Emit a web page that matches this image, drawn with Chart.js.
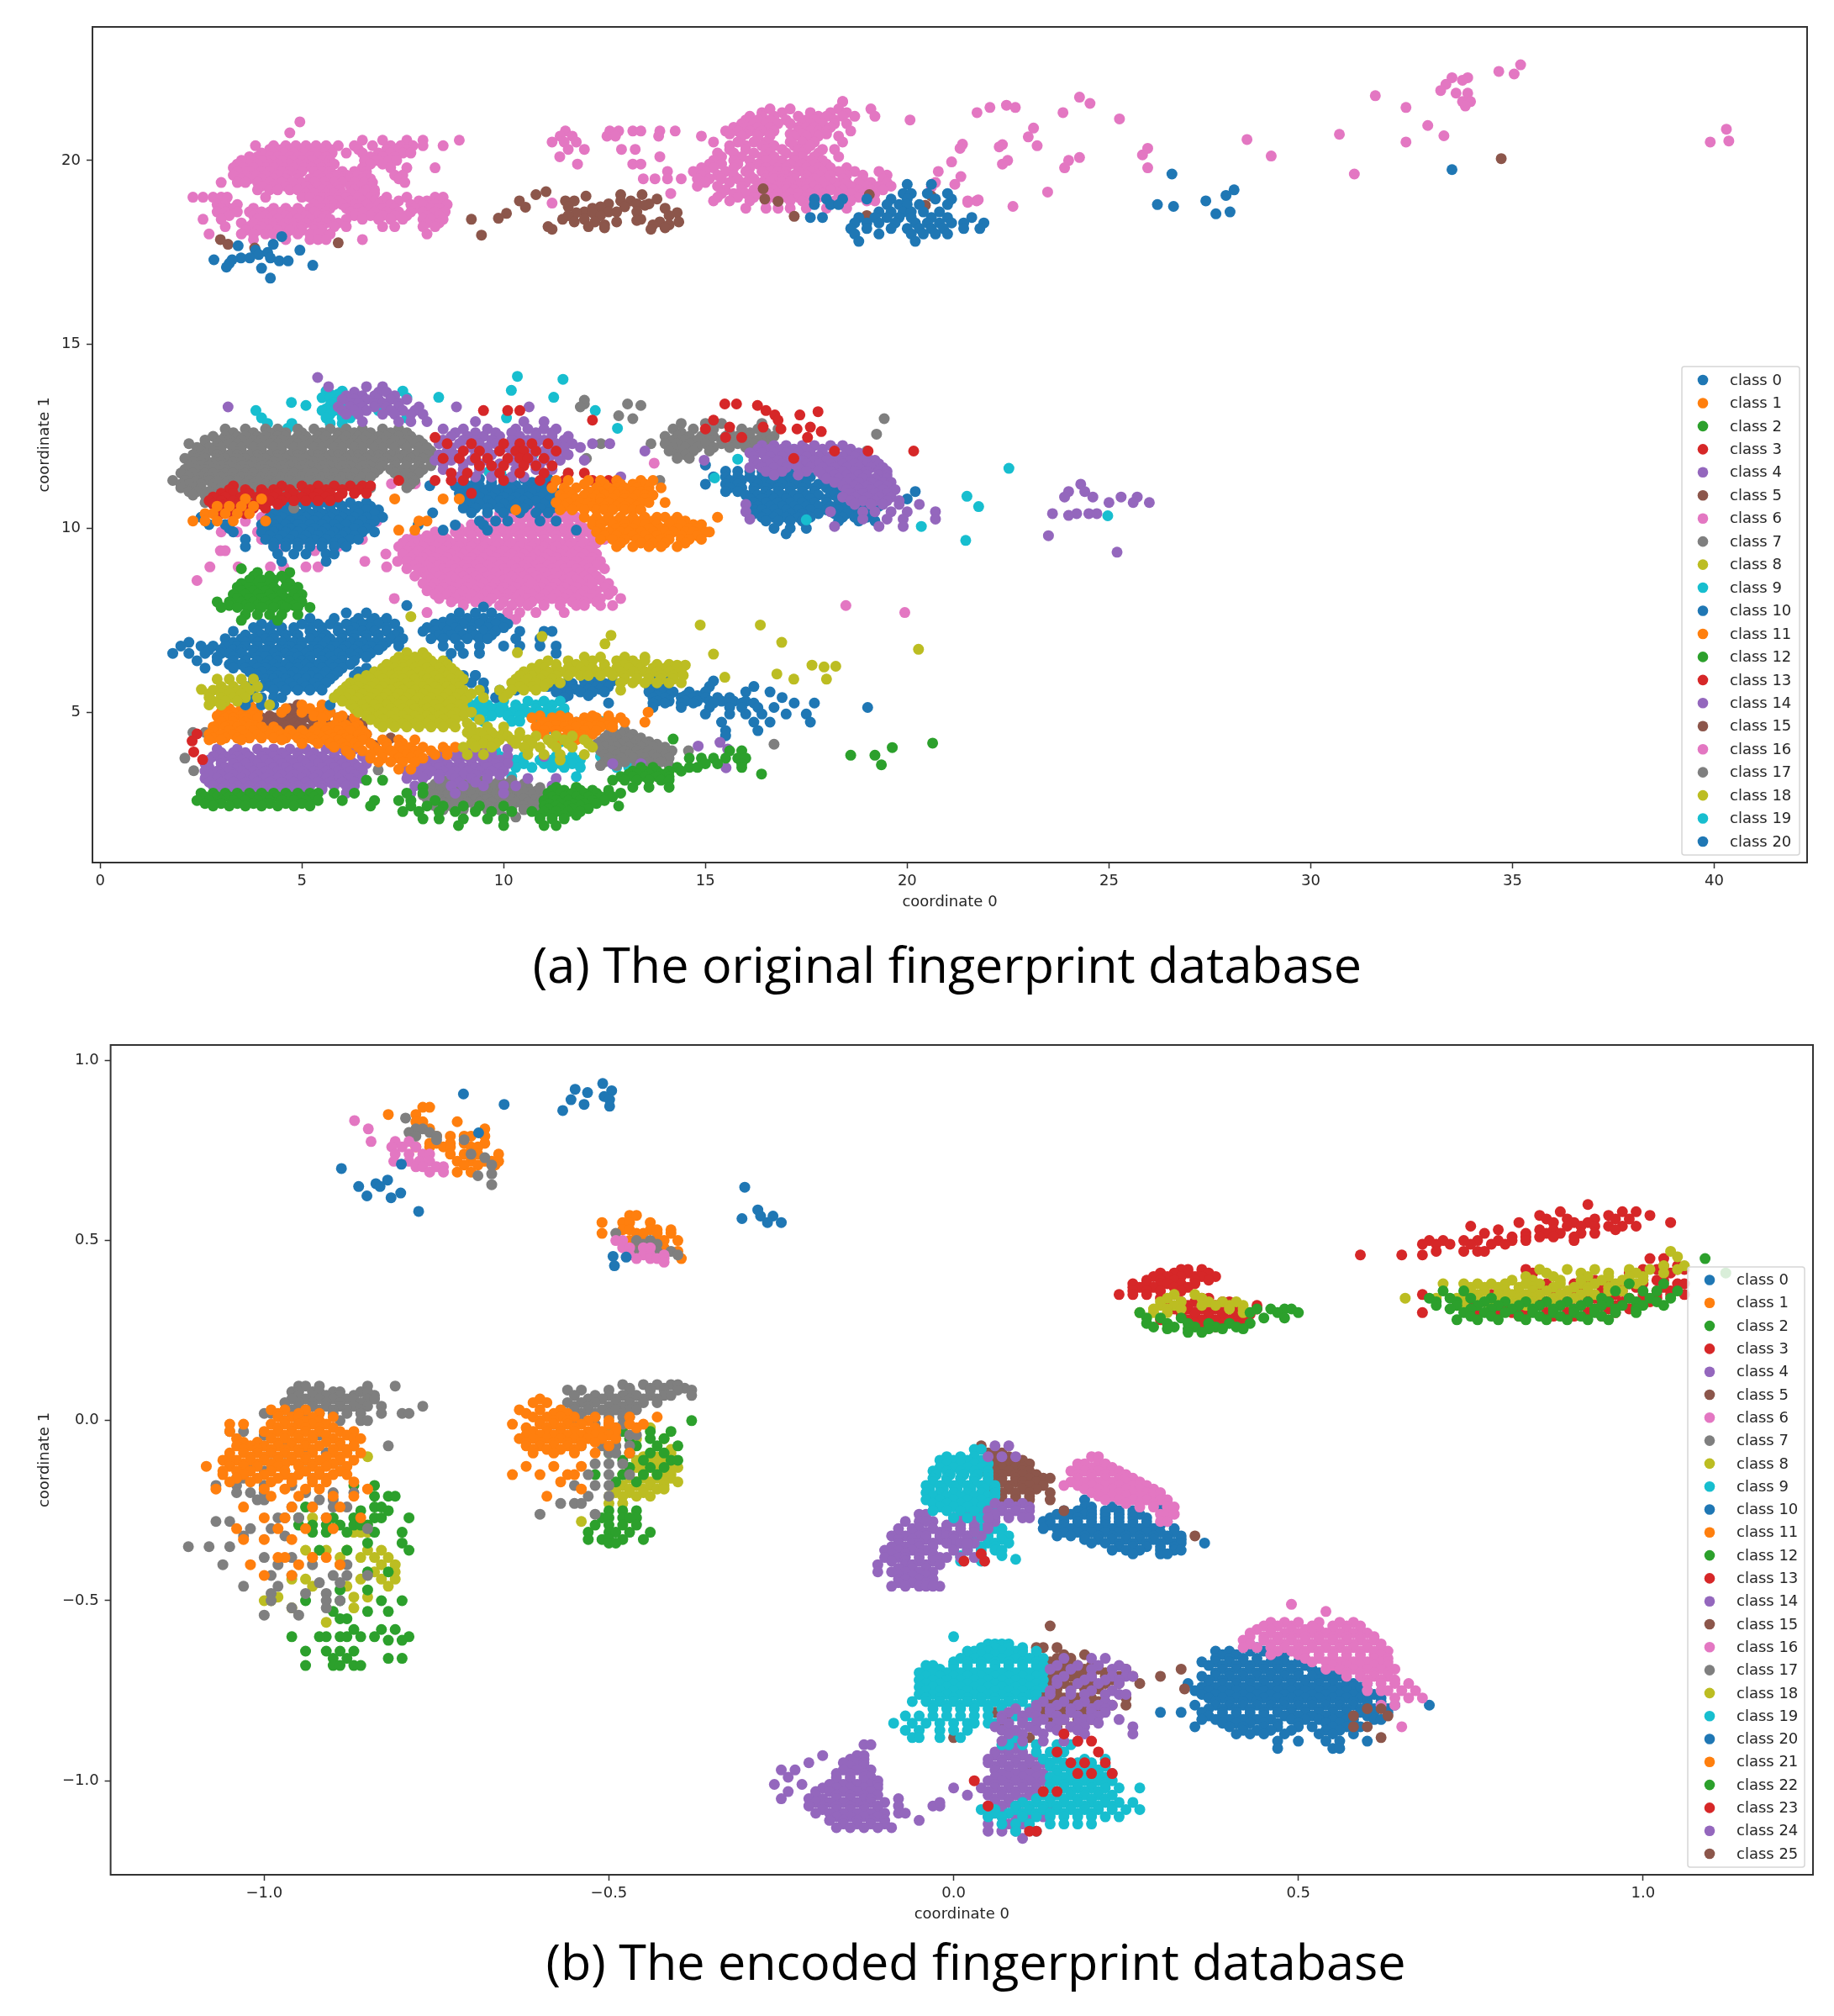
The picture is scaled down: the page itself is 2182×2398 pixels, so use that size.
<!DOCTYPE html>
<html>
<head>
<meta charset="utf-8">
<title>Fingerprint database scatter</title>
<script src="https://cdn.jsdelivr.net/npm/chart.js@4"></script>
<style>
  html, body { margin: 0; padding: 0; background: #fff; }
  body { position: relative; width: 2182px; height: 2398px; overflow: hidden; }
  canvas { position: absolute; left: 0; }
  #chartA { top: 0; }
  #chartB { top: 1200px; }
  .caption { position: absolute; white-space: nowrap; font-family: "Open Sans", "Noto Sans", sans-serif; font-size: 59.3px; line-height: 80px; color: #000; transform: translateX(-50%); }
  #capA { left: 1127px; top: 1106px; }
  #capB { left: 1161px; top: 2292px; }
</style>
</head>
<body>
<canvas id="chartA" width="2182" height="1100"></canvas>
<canvas id="chartB" width="2182" height="1120"></canvas>
<div class="caption" id="capA">(a) The original fingerprint database</div>
<div class="caption" id="capB">(b) The encoded fingerprint database</div>
<script>
const palette = ["#1f77b4", "#ff7f0e", "#2ca02c", "#d62728", "#9467bd", "#8c564b", "#e377c2", "#7f7f7f", "#bcbd22", "#17becf"];
const ticksAX = [0, 5, 10, 15, 20, 25, 30, 35, 40];
const ticksAY = [5, 10, 15, 20];
const ticksBX = [-1.0, -0.5, 0.0, 0.5, 1.0];
const ticksBY = [-1.0, -0.5, 0.0, 0.5, 1.0];

// every row below is [y, x, x, x ...]
// --- panel a ---
const a0 = [[19.75,33.5],[19.63,26.56],[19.2,28.1],[19.05,27.9],[18.9,27.4],[18.8,26.2],[18.75,26.6],[18.6,28.0],[18.55,27.65],
[17.93,4.5],[17.72,4.29],[17.68,3.42],[17.56,3.85,4.95],[17.5,4.15],[17.44,3.93],[17.35,3.49,3.71,4.22],[17.3,2.82,3.27],[17.27,4.44,4.66],[17.2,3.2],[17.15,5.27],[17.1,3.13],[17.07,4.0],[16.8,4.22],
[19.35,20.0,20.6],[19.1,19.9,20.1,20.5,21.0],[18.95,17.7,18.0,18.4,19.0,19.6,20.0,20.7,21.1],[18.8,17.7,18.1,18.3,19.5,19.8,20.0,20.3,21.0],[18.6,19.3,19.6,19.9,20.1,20.4,20.8],[18.45,17.6,17.9,18.8,19.2,19.5,19.8,20.1,20.6,21.0,21.6],[18.3,18.7,19.0,19.3,19.7,20.2,20.5,20.8,21.1,21.4,21.9],[18.15,18.6,19.0,19.6,20.0,20.3,20.6,20.9,21.4,21.8],[18.0,18.7,19.3,20.1,20.4,20.7,21.0],[17.8,18.8,20.2]];
const a1 = [[11.3,11.3,11.6,12.1,12.4,12.8,13.4,13.7],[11.2,12.0,12.5,12.9,13.2,13.5],[11.1,11.2,11.5,11.8,12.3,12.6,12.8,13.0,13.3,13.6,13.9],[11.0,11.6,12.1,12.4,12.7,12.9,13.2,13.4,13.6],[10.9,11.4,11.7,12.0,12.3,12.5,12.8,13.0,13.3,13.5,13.7],[10.8,11.5,11.8,12.2,12.4,12.7,13.0,13.2,13.5],[10.7,11.3,11.6,11.9,12.1,12.4,12.6,12.9,13.1,13.4,13.6,14.0],[10.6,11.5,11.8,12.2,12.5,12.8,13.0,13.3],[10.5,11.4,11.7,12.0,12.3,12.5,12.7,13.0,13.2,13.4,10.3],
[10.3,12.0,12.3,12.6,12.9,13.2,13.5,13.8,14.0,14.3,15.3],[10.2,12.2,12.5,12.8,13.1,13.4,13.7,14.2,14.5],[10.1,12.2,12.4,12.7,13.0,13.3,13.5,13.8,14.1,14.4,14.7,14.9],[10.0,12.4,12.8,13.0,13.2,13.6,13.9,14.3,14.6,14.8],[9.9,12.3,12.6,12.9,13.1,13.4,13.7,14.0,14.2,14.5,14.7,15.0,15.1],[9.8,12.5,12.8,13.2,13.5,13.8,14.1,14.4,14.8],[9.7,12.4,12.7,13.0,13.3,13.6,13.9,14.1,14.4,14.6,14.9],[9.6,12.9,13.4,13.7,14.0,14.5],[9.5,12.8,13.2,13.6,13.9,14.3],
[10.8,3.6,4.0,7.3,8.5,8.9],[10.6,2.9,3.2,3.5,3.8],[10.4,2.6,2.8,3.1,3.4,3.7],[10.2,2.3,2.6,2.9,3.3,4.1,7.9,8.1],[9.95,7.8,7.4]];
const a2 = [[8.9,3.5],[8.8,3.9,4.7],[8.7,3.8,4.2,4.5],[8.6,3.7,4.0,4.3,4.6],[8.5,3.5,3.9,4.2,4.7],[8.4,3.4,3.7,4.0,4.3,4.6,4.9],[8.3,3.5,3.8,4.1,4.4,4.8],[8.2,3.3,3.6,3.9,4.2,4.5,4.8,5.0],[8.1,3.4,3.7,4.0,4.3,4.6,4.9],[8.0,2.9,3.2,3.5,3.8,4.1,4.4,4.7,5.0],[7.9,3.2,3.6,3.9,4.2,4.5,4.8],[7.85,3.0,3.4,3.7,4.0,4.3,4.6,4.9,5.2],[7.65,3.6,3.9,4.2,4.5,4.9],[7.5,3.5,4.4]];
const a3 = [[13.38,15.77,15.48],[13.34,16.29],[13.2,16.5,9.5,10.1,10.4],[13.08,16.72,17.34],[13.17,17.79],[12.94,15.2,16.8,12.2],[12.75,15.6,16.43,17.6],[12.7,16.87,17.27,15.0],[12.63,17.87],[12.47,15.5,15.9,17.53,8.3],[12.3,8.6,9.2,10.0,10.4,10.7,11.1],[12.1,9.0,9.4,9.9,10.3,10.5,10.8,11.3,18.2,19.03,20.16],
[11.9,8.5,8.9,9.3,9.6,10.1,10.4,10.6,11.0,17.19],[11.7,9.4,9.7,10.0,10.5,10.8,11.2],[11.5,8.7,9.1,9.9,10.4,11.0,11.6,12.0],[11.3,7.4,8.3,8.7,9.0,10.0,10.9,11.5,12.2,12.6],[11.15,3.3,4.5,5.0,5.4,5.8,6.2,6.5,6.7,11.2],[11.05,3.2,3.6,4.0,4.3,4.7,5.2,5.6,6.0,6.4],[10.95,3.0,3.3,3.7,4.1,4.4,4.8,5.1,5.4,5.7,6.0,6.3,6.6,9.2],[10.85,2.8,3.1,3.5,3.9,4.3,4.6,5.0,5.3,5.6,5.9],[10.75,2.7,3.0,3.3,3.6,3.9,4.2,4.5,4.8,5.1,5.4,5.7],[10.65,2.8,3.1,3.4,3.7,4.0,4.4],[10.55,2.9,3.2,3.5,3.8,4.1],[10.4,3.0,3.3,3.6]];
const a4 = [[14.1,5.39],[13.85,5.66,6.6,7.0],[13.7,6.3,6.9,7.1],[13.6,6.1,6.5,6.8,7.3],[13.5,6.0,6.3,6.6,6.9,7.2,7.6],[13.4,6.2,6.4,6.8,7.0,7.4],[13.3,3.17,5.9,6.2,6.5,6.8,7.1,7.4,7.9,8.83,10.63],[13.2,6.0,6.3,6.6,7.2,7.5,7.8],[13.1,6.1,6.4,7.0,7.3,7.7,8.0],[12.9,6.5,7.4,7.7,8.1,9.3,10.5,11.0],[12.7,8.5,9.0,9.6,10.3,10.6,11.0,11.3],[12.6,8.8,9.3,9.8,10.2,10.8,11.2],[12.5,8.7,9.1,9.5,9.9,10.4,10.8,11.2,11.6],[12.4,8.5,9.0,9.3,9.7,10.2,10.6,11.0,11.5],[12.3,8.4,8.9,9.4,9.8,10.3,10.8,11.3,11.7,12.2,12.63],[12.2,8.7,9.2,9.6,10.1,10.6,11.1,11.5,11.9],[12.1,8.6,9.0,9.5,9.9,10.5,11.0,11.5,13.5],[12.0,8.4,8.8,9.3,9.7,10.2,10.7,11.2,11.6],[11.85,8.3,8.7,9.2,9.6,10.2,10.7,11.1,11.4,14.97,12.0],[11.75,8.5,9.0,9.4,9.9,10.4,10.9],[11.6,8.5,9.0,9.4,9.8,10.3,10.8,11.2],[11.4,8.9,9.3,9.7,10.2,10.5,12.9],
[12.25,16.4,16.7,17.0,17.4,17.7,18.1,18.4],[12.15,16.3,16.6,16.9,17.2,17.5,17.9,18.2,18.6],[12.05,16.1,16.4,16.7,17.0,17.3,17.6,17.9,18.2,18.5,18.8],[11.95,16.2,16.6,16.9,17.2,17.5,17.8,18.1,18.4,18.7,19.0],[11.85,16.2,16.5,16.8,17.1,17.4,17.7,18.0,18.3,18.6,18.9,19.2],[11.75,16.3,16.6,16.9,17.2,17.5,17.8,18.1,18.4,18.7,19.0,19.3],[11.65,16.1,16.4,16.7,17.0,17.3,17.6,17.9,18.2,18.5,18.8,19.1,19.4],[11.55,16.5,16.9,17.5,17.8,18.1,18.4,18.7,19.0,19.3,19.5],[11.45,16.7,17.3,17.9,18.2,18.5,18.8,19.0,19.3,19.5],[11.35,18.0,18.3,18.6,18.9,19.2,19.5],[11.25,18.2,18.5,18.8,19.1,19.4,19.6],[11.15,18.4,18.7,19.0,19.3,19.5],[11.05,18.5,18.8,19.1,19.4,19.7],[10.95,18.6,18.9,19.2,19.5],[10.85,18.4,18.7,19.0,19.3,19.6],[10.75,18.6,18.9,19.2,19.5,19.8],[10.65,16.0,18.7,19.1,19.4,19.8,20.3],[10.45,16.0,18.1,18.9,19.2,19.6,20.0,20.7],[10.25,16.1,18.9,19.5,19.9,20.7],[10.05,18.2,19.3,19.9],[11.2,24.3],[11.0,24.0,24.4],[10.85,23.9,24.6,25.3,25.7],[10.7,25.0,25.6,26.0],[10.4,23.6,24.2,24.5,24.7],[10.35,24.0],[9.8,23.5],[9.35,25.2]];
const a5 = [[20.05,34.72],[19.23,16.43],[19.15,11.05],[19.07,10.8,12.9,13.43,19.06],[19.03,12.04,20.6],[18.99,20.0],[18.95,16.47,13.8],[18.9,10.39,11.53,11.75,13.15,12.9],[18.89,16.8],[18.82,12.6,13.3,13.6],[18.78,13.5,20.45],[18.74,12.4,13.0,11.6],[18.73,10.54],[18.7,14.0,12.2],[18.6,12.0,12.6,12.8,13.3],[18.58,11.8,12.2,14.3],[18.56,10.07],[18.5,19.0,14.1,11.6,12.4],[18.48,17.2],[18.43,9.87],[18.4,9.2,11.46,13.4,12.0],[18.37,13.3],[18.33,11.75,12.26,12.8,14.34,13.87],[18.25,12.5,13.7,14.1],[18.2,11.1,12.1],[18.17,12.5,14.0],[18.13,11.2,13.65],[17.97,9.45],[17.85,2.98],[17.76,5.9],[17.72,3.17],[17.62,3.83]];
const a6 = [[22.6,35.2],[22.42,34.66],[22.35,35.04],[22.25,33.5,33.89],[22.18,33.76],[22.07,33.35],[21.9,33.22],[21.83,33.6,33.89],[21.76,31.6],[21.72,24.27],[21.6,33.76,33.96,18.4],[21.55,24.53],[21.48,33.83],[21.5,22.46],[21.44,22.05,22.68,32.36],[21.3,21.73,23.86],[21.13,25.26],[21.1,20.07],[20.95,32.9],[20.88,23.13],[20.85,40.3],[20.71,30.71],[20.67,33.3],[20.64,23.0],[20.57,28.42],[20.53,40.36],[20.5,39.9,32.36],[20.44,21.37],[20.43,22.36],[20.4,23.22],[20.33,21.31,25.96],[20.37,22.28],[20.15,25.83],[20.12,29.02],[20.08,24.27],[20.0,22.49,24.0],[19.96,21.1],[19.9,22.36],[19.8,23.9,25.96],[19.7,20.77],[19.63,31.08],[19.56,21.33],[19.4,20.7],[19.35,21.18],[19.28,20.6],[19.14,23.48],[18.93,21.76],[18.9,21.5,21.72],[18.86,21.5],[18.75,22.62],[18.84,11.2],
[21.05,4.95],[20.75,4.7],[20.55,6.5,7.0,7.6,8.0,8.9],[20.4,3.85,4.3,4.6,4.85,5.1,5.35,5.6,5.9,6.3,6.75,7.2,7.45,7.75,8.0,8.5],[20.3,4.2,4.5,4.7,5.0,5.2,5.5,5.7,6.4,7.1,7.4,7.6],[20.2,4.0,4.3,4.55,4.8,5.05,5.3,5.55,5.75,6.1,6.5,6.9,7.2,7.5,7.7],[20.1,3.7,3.9,4.2,4.4,4.7,4.9,5.2,5.4,5.6,6.7,7.0,7.3],[20.0,3.5,3.75,4.0,4.25,4.5,4.75,5.0,5.25,5.5,5.7,6.55,6.85,7.15,7.35],[19.9,3.4,3.7,3.9,4.2,4.4,4.7,4.9,5.1,5.4,5.6,5.8,6.7,7.0],[19.8,3.3,3.55,3.8,4.1,4.3,4.55,4.8,5.05,5.25,5.5,5.7,6.5,7.2,7.6,8.3],[19.7,3.4,3.7,4.0,4.2,4.5,4.7,5.0,5.3,5.5,5.7,6.0,6.3,6.6],[19.6,3.3,3.6,3.85,4.1,4.4,4.65,4.9,5.4,5.6,5.85,6.1,6.35,6.6,7.3,7.5],[19.5,3.5,3.7,4.0,4.3,4.6,4.9,5.2,5.5,5.7,6.0,6.2,6.5,6.7,7.4],[19.4,3.0,3.4,3.6,3.9,4.2,4.5,4.75,5.0,5.3,5.55,5.8,6.0,6.3,6.55,6.75,7.55],[19.3,4.0,4.3,4.6,4.8,5.1,5.4,5.6,5.9,6.2,6.4,6.7],[19.2,3.9,4.2,4.4,4.7,4.9,5.2,5.5,5.7,5.95,6.3,6.6,6.8],[19.1,5.1,5.3,5.6,5.8,6.0,6.2,6.5,6.8],[19.0,2.3,2.55,2.8,3.0,3.15,4.1,5.0,5.2,5.5,5.7,5.9,6.1,6.4,6.7,7.1,7.6,8.3,8.5],[18.9,5.4,5.7,5.9,6.2,6.5,6.8,7.0,7.4,7.9,8.1,8.4],[18.8,2.9,3.1,3.4,5.3,5.6,5.8,6.0,6.3,6.6,6.9,7.2,7.7,8.0,8.3,8.6],[18.7,3.0,3.3,3.8,4.3,4.6,4.9,5.2,5.5,5.7,6.1,6.4,6.7,7.0,7.3,7.8,8.2,8.4],[18.6,2.9,3.1,3.4,3.7,4.0,4.2,4.5,4.7,5.0,5.3,5.6,6.2,6.5,6.8,7.1,7.4,7.7,8.0,8.3,8.55],[18.5,3.2,3.8,4.1,4.3,4.6,4.8,5.1,5.4,5.6,6.3,6.7,7.0,7.3,7.6,8.1,8.4],[18.4,2.55,3.0,3.9,4.2,4.4,4.7,4.9,5.2,5.5,5.7,6.1,6.5,6.9,7.2,7.5,8.0,8.2,8.5],[18.3,3.5,3.8,4.1,4.3,4.6,4.8,5.1,5.4,5.6,5.9,8.1,8.4],[18.2,3.1,3.7,4.0,4.3,4.5,4.8,5.0,5.3,5.5,5.8,6.1,7.0,7.3,8.0,8.3],[18.1,3.6,3.9,4.2,4.4,4.7,5.0,5.3,5.5],[18.0,2.7,3.5,3.8,4.1,4.3,4.6,4.9,5.2,5.4,5.7,8.1],[17.85,3.8,4.6,5.2,5.4,5.6,6.5],
[21.6,18.4],[21.4,16.6,17.1,18.3,19.1],[21.3,16.4,16.9,17.6,18.1,18.5],[21.2,16.1,16.4,16.7,17.3,17.8,18.0,18.4,18.7,19.2],[21.1,16.0,16.3,16.6,17.0,17.5,17.7,18.2],[21.0,15.9,16.2,16.5,16.8,17.1,17.4,17.6,17.9,18.2,18.5],[20.9,15.7,16.0,16.3,16.6,17.3,17.5,17.7,18.1],[20.8,15.5,15.8,16.1,16.4,16.7,17.3,17.6,17.8,18.0,18.6,11.53,12.63,12.85,13.2,13.4,14.25,13.87],[20.72,15.6,16.0,16.3,16.6,17.1,17.4,17.7,18.0],[20.66,14.9,15.9,16.3,16.6,17.2,17.5,17.8,18.3,11.4,11.7,12.56,12.77,13.84],[20.5,15.2,15.8,16.2,16.5,17.1,17.4,17.7,18.4,11.2,11.5,11.8],[20.4,15.6,16.0,16.4,16.7,17.2,17.6],[20.3,15.6,16.0,16.5,16.9,17.3,17.5,17.9,18.2,11.6,12.0,12.92,13.26],[20.2,15.3,15.7,16.2,16.6,17.0,17.4,17.8],[20.1,15.4,15.9,16.4,16.7,17.2,17.4,17.7,18.3,11.39,13.87],[20.0,15.2,15.7,16.1,16.5,16.9,17.2,17.6,17.9],[19.9,15.1,15.4,15.8,16.3,16.7,16.9,17.1,17.4,17.7,18.0,11.83,13.2,13.4],[19.8,14.9,15.2,15.7,16.1,16.5,16.8,17.0,17.3,17.5,17.8,18.1,18.5],[19.7,14.7,15.0,15.5,16.0,16.4,16.6,16.8,17.0,17.3,17.6,17.9,18.3,18.7,19.3,14.06],[19.6,14.9,15.3,15.7,16.1,16.5,16.7,17.0,17.2,17.5,17.8,18.1,18.5,18.9,19.5],[19.5,14.8,15.1,15.4,15.8,16.2,16.5,16.7,16.9,17.2,17.5,17.7,18.0,18.4,18.9,19.4,13.46,13.75,14.06,14.4],[19.4,15.0,15.6,16.0,16.4,16.6,16.9,17.1,17.4,17.6,17.9,18.2,18.5,18.8,19.1,19.5],[19.3,14.8,15.3,15.9,16.3,16.5,16.8,17.0,17.3,17.5,17.7,18.0,18.3,18.6,19.0,19.3,19.6],[19.2,15.5,15.9,16.2,16.5,16.7,17.0,17.2,17.5,17.8,18.1,18.4,18.8,19.1,19.4],[19.1,15.4,15.7,16.0,16.3,16.6,16.8,17.1,17.3,17.6,17.9,18.3,18.6,18.9,19.2,14.14],[19.0,15.3,15.8,16.2,16.5,16.7,17.0,17.3,17.5,17.8,18.4,18.8],[18.9,15.2,15.6,16.1,16.5,16.8,17.1,17.4,17.6,18.2,18.6,19.0,19.2],[18.7,16.0,16.5,16.8,17.1,17.5,18.0,18.5]];
const a7 = [[13.48,12.0],[13.38,13.07,12.0],[13.34,13.4],[13.3,11.9],[13.06,12.85],[12.98,13.2,19.43],[12.85,14.4,15.0,15.4,16.4],[12.7,3.1,3.6,4.1,4.4,4.9,5.3,5.7,6.1,6.5,7.0,7.4,14.2,14.7,15.2,15.9,16.3,16.8],[12.6,3.3,3.8,4.2,4.6,5.0,5.5,5.9,6.3,6.7,7.2,7.6,14.4,15.0,15.6,16.1,16.5],[12.56,19.24],[12.5,2.8,3.1,3.4,3.6,3.9,4.1,4.4,4.6,4.9,5.1,5.4,5.6,5.9,6.1,6.4,6.6,6.9,7.1,7.4,7.7,14.0,14.3,14.6,14.9,15.2,15.5,15.8,16.1,16.4,16.7],[12.4,2.6,3.0,3.2,3.5,3.8,4.0,4.3,4.5,4.8,5.0,5.3,5.5,5.8,6.0,6.3,6.5,6.8,7.0,7.3,7.6,7.9,14.2,14.5,14.8,15.1,15.4,15.7,16.0,16.3,16.6],[12.3,2.2,2.6,2.9,3.2,3.4,3.7,3.9,4.2,4.4,4.7,4.9,5.2,5.4,5.7,5.9,6.2,6.4,6.7,6.9,7.2,7.5,7.8,8.0,14.0,14.3,14.6,15.0,15.4,15.8,16.2,16.5,12.41,13.65],[12.2,2.4,2.7,3.0,3.3,3.5,3.8,4.0,4.3,4.5,4.8,5.0,5.3,5.5,5.8,6.0,6.3,6.5,6.8,7.0,7.3,7.6,7.9,8.1,14.2,14.5,14.8,15.2,15.6,16.0],[12.1,2.5,2.8,3.0,3.3,3.5,3.8,4.0,4.3,4.5,4.8,5.0,5.3,5.5,5.8,6.0,6.3,6.5,6.8,7.0,7.3,7.6,7.9,8.2,14.1,14.4,14.7,15.1,19.0],[12.0,2.3,2.6,2.9,3.2,3.4,3.7,3.9,4.2,4.4,4.7,4.9,5.2,5.4,5.7,5.9,6.2,6.4,6.7,6.9,7.2,7.5,7.8,8.1,14.3,14.5],[11.9,2.1,2.4,2.6,2.9,3.1,3.4,3.6,3.9,4.1,4.4,4.6,4.9,5.1,5.4,5.6,5.9,6.1,6.4,6.6,6.9,7.1,7.4,7.7,8.0,8.3,12.05,14.3,14.6],[11.8,2.3,2.5,2.8,3.0,3.3,3.5,3.8,4.0,4.3,4.5,4.8,5.0,5.3,5.5,5.8,6.0,6.3,6.5,6.8,7.0,7.3,7.6,7.9,8.2],[11.7,2.2,2.5,2.7,3.0,3.2,3.5,3.7,4.0,4.2,4.5,4.7,5.0,5.2,5.5,5.7,6.0,6.2,6.5,6.7,7.0,7.3,7.6,7.9,8.2],[11.6,2.1,2.4,2.6,2.9,3.1,3.4,3.6,3.9,4.1,4.4,4.6,4.9,5.1,5.4,5.6,5.9,6.1,6.4,6.6,6.9,7.2,7.5,7.8,8.0],[11.5,2.0,2.3,2.6,2.8,3.1,3.3,3.6,3.8,4.1,4.3,4.6,4.8,5.1,5.3,5.6,5.8,6.1,6.3,6.6,6.8,7.3,7.6,7.9,11.6],[11.4,2.2,2.5,2.7,3.0,3.2,3.5,3.7,4.0,4.2,4.5,4.7,5.0,5.2,5.5,5.7,6.0,6.2,6.5,6.7,7.4,7.7],[11.3,1.8,2.1,2.4,2.7,2.9,3.2,3.4,3.7,3.9,4.2,4.4,4.7,4.9,5.2,5.4,5.7,5.9,6.2,6.4,7.5,7.8,13.87],[11.2,2.0,2.2,2.5,2.8,3.1,3.3,3.6,3.8,4.1,4.3,4.8,5.3,5.6,6.1,6.5,7.7],[11.1,2.0,2.3,2.5,2.8,3.0,3.3,3.5,3.8,4.0,4.6,5.1,5.5,6.0,6.7,7.6],[11.0,2.2,2.4,2.7,3.0,3.2,3.5,3.9,4.4,5.0],[10.9,2.3,2.6,2.9,3.1,3.4,3.7,4.2,4.8,5.5],[10.7,2.6,3.0,3.6],[10.55,4.8]];
const a8 = [[7.6,7.7],[7.37,14.87,16.36],[7.09,12.66],[7.06,10.95],[6.9,16.89],[6.86,12.51],[6.71,20.28],[6.62,10.34,7.6,8.0],[6.58,15.2],[6.5,12.0,12.4,13.0,13.5,7.4,7.8,8.1],[6.4,7.3,7.6,7.9,8.2,8.5,11.1,11.6,12.2,12.8,13.2,13.5],[6.3,7.1,7.5,7.7,8.0,8.3,8.6,10.9,11.3,11.8,12.0,12.5,13.0,13.3,13.8,14.1],[6.28,17.64,14.3,14.5],[6.25,18.23],[6.23,17.94],[6.2,7.0,7.3,7.5,7.8,8.1,8.4,8.7,10.7,11.0,11.3,11.6,11.9,12.2,12.5,12.8,13.1,13.4,13.7,14.0,14.3],[6.1,6.8,7.1,7.4,7.6,7.9,8.2,8.5,8.8,10.5,10.8,11.1,11.4,11.7,12.0,12.3,12.6,12.9,13.2,13.5,13.8,14.1,14.4],[6.04,16.77],[6.0,6.6,6.9,7.2,7.4,7.7,8.0,8.3,8.6,8.9,10.4,10.7,11.0,11.3,11.6,11.9,12.1,12.4,12.7,13.0,13.3,13.6,13.9,14.2,14.45],[5.95,15.48],[5.9,2.9,3.2,3.5,3.8,18.0,17.19,6.4,6.7,7.0,7.3,7.5,7.8,8.1,8.4,8.7,9.0,10.3,10.6,10.9,11.2,13.0,13.3,13.6,13.9,14.2],[5.8,6.2,6.5,6.8,7.1,7.3,7.6,7.9,8.2,8.5,8.8,10.2,10.5,10.8,11.1,11.4,12.9,13.2,13.5,13.8,14.1,14.4],[5.7,3.0,3.3,3.6,3.9,6.1,6.4,6.7,7.0,7.4,7.7,8.0,8.3,8.6,8.9,10.4,10.7,11.0],[5.62,2.51],[5.6,2.8,3.1,3.4,3.7,6.0,6.3,6.6,6.9,7.2,7.5,7.8,8.1,8.4,8.7,9.0,9.4,9.9,10.2,10.5,10.8,12.9],[5.5,2.7,3.0,3.2,3.5,5.9,6.2,6.5,6.8,7.1,7.4,7.7,8.0,8.3,8.6,8.9,9.2,10.1],[5.4,2.7,3.0,3.3,3.6,3.9,5.8,6.1,6.4,6.7,7.0,7.3,7.6,7.9,8.2,8.5,8.8,9.1,9.5,10.0],[5.3,2.8,3.1,3.4,6.0,6.3,6.6,6.9,7.2,7.5,7.8,8.1,8.4,8.7,9.0],[5.2,2.7,3.0,4.2,6.2,6.5,6.8,7.1,7.4,7.7,8.0,8.3,8.6,8.9],[5.1,6.3,6.6,6.9,7.2,7.5,7.8,8.1,8.4,8.7,9.0],[5.0,6.4,6.7,7.0,7.3,7.6,7.9,8.2,8.5,8.8,9.2],[4.9,6.6,6.9,7.2,7.5,7.8,8.1,8.4,8.7,9.0],[4.8,6.7,7.0,7.3,7.6,7.9,8.2,8.5,8.8,9.4],[4.7,6.9,7.2,7.5,7.8,8.1,8.4,8.7,9.1],[4.6,7.0,7.3,7.6,7.9,8.2,8.5,8.8,9.2,9.6,10.0],[4.45,9.1,9.4,9.7,10.0,10.4],[4.35,9.2,9.5,9.8,10.1,10.4,10.8,11.3,11.7],[4.25,9.3,9.6,9.9,10.2,10.6,11.1,11.5,12.0],[4.15,9.2,9.5,9.8,10.3,10.7,11.2,11.6,12.1],[4.05,9.0,9.3,9.7,10.5,10.9,11.3,11.7,12.2],[3.85,9.1,9.5,10.6,11.0,11.4,12.0]];
const a9 = [[14.13,10.34],[14.05,11.47],[13.75,10.19],[13.73,7.5,5.6,6.0],[13.65,5.7,5.9],[13.56,11.24,8.39],[13.55,5.5,5.7,5.95,6.2,7.6],[13.42,4.74,5.8,6.0],[13.35,5.7,6.1,7.0],[13.34,5.1],[13.25,5.6,5.9,6.2],[13.2,3.86,12.27,5.5,5.8,6.1,6.9],[13.1,5.7,6.0],[13.0,4.0,5.6,6.0,6.2,7.6,10.07],[12.85,4.15,4.75,5.7,6.0],[12.72,12.82,4.65],[12.37,9.34],[12.14,17.16],[12.0,10.73],[11.96,17.57],[11.88,15.8],[11.63,22.52],[11.54,9.63],[11.5,9.93],[11.38,18.33],[11.37,15.23],[10.87,21.48],[10.59,21.77],[10.34,24.97],[10.23,17.5],[10.05,20.35],[9.67,21.45]];
const a10 = [[7.86,9.5],[7.7,6.1,6.6,8.9,9.3,9.7],[7.55,5.2,5.8,6.4,6.8,7.1,8.7,9.1,9.5,9.9],[7.45,6.3,6.7,7.0,8.5,8.9,9.3,9.7,10.0],[7.4,4.0,4.3,5.0,5.4,5.7,6.1,6.5,6.9,7.3,8.3,8.7,9.0,9.4,9.8,10.1],[7.3,3.8,4.2,4.5,4.8,5.2,5.5,5.9,6.3,6.7,7.1,8.1,8.5,8.8,9.2,9.6,10.0],[7.2,3.3,3.9,4.2,4.5,4.8,5.2,5.5,5.9,6.2,6.5,6.8,7.1,7.4,8.0,8.3,8.6,8.9,9.2,9.5,9.8,10.4,11.0,11.2],[7.1,3.6,4.0,4.3,4.6,4.9,5.3,5.6,6.0,6.3,6.6,6.9,7.3,8.4,8.7,9.0,9.3,9.7],[7.0,3.1,3.5,3.8,4.1,4.3,4.6,4.9,5.2,5.5,5.7,6.0,6.3,6.6,6.9,7.2,7.5,8.2,8.5,8.8,9.1,9.4,9.6,10.3,10.9],[6.9,2.2,3.3,3.6,3.9,4.2,4.5,4.8,5.0,5.4,5.6,5.9,6.2,6.5,6.8,7.1,7.4],[6.8,2.0,2.5,2.8,3.1,3.4,3.6,3.9,4.2,4.5,4.7,5.0,5.3,5.5,5.8,6.1,6.4,6.7,7.0,7.4,8.5,8.9,9.4,10.0,10.4,10.9,11.3],[6.7,2.7,3.0,3.3,3.5,3.8,4.1,4.4,4.6,4.9,5.2,5.4,5.7,6.0,6.3,6.6,6.9],[6.6,1.8,2.2,2.6,3.0,3.2,3.5,3.8,4.0,4.3,4.6,4.8,5.1,5.4,5.6,5.9,6.2,6.4,6.7,8.0,8.7,9.0,9.4,11.3],[6.5,2.9,3.3,3.6,3.9,4.1,4.4,4.7,4.9,5.2,5.5,5.7,6.0,6.3,6.6],[6.4,2.4,2.9,3.3,3.6,3.9,4.2,4.4,4.7,5.0,5.2,5.5,5.8,6.0,6.3,8.6],[6.3,3.2,3.5,3.8,4.1,4.3,4.6,4.9,5.1,5.4,5.7,5.9,6.2],[6.2,2.6,3.3,3.6,3.9,4.1,4.4,4.7,4.9,5.2,5.5,5.8,6.0,6.6,7.1],[6.1,3.7,4.0,4.3,4.5,4.8,5.1,5.3,5.6,5.9,6.4],[6.0,3.9,4.2,4.4,4.7,5.0,5.2,5.5,5.8,6.3,6.9,9.0,9.3],[5.9,3.8,4.1,4.3,4.6,4.9,5.1,5.4,5.7],[5.8,3.8,4.1,4.4,4.7,5.0,5.3,5.6,7.3,7.7,8.7,9.2,9.5],[5.7,3.6,4.0,4.2,4.5,4.8,5.1,5.4],[5.6,3.5,3.8,4.3,4.6,4.9,5.2,5.5,7.1,7.5,8.0,8.5,9.5,9.9,10.3],[5.4,3.3,3.7,4.0,4.3,4.5,6.6,7.6,9.8],[5.2,3.6,4.0,4.3,5.7],
[11.72,15.0],[11.55,15.5,15.8,16.1,16.4,16.7,17.1,17.4],[11.4,15.2,15.5,15.8,16.1,16.4,16.7,17.0,17.3,17.6,18.1,18.6,18.9],[11.3,15.6,15.9,16.2,16.5,16.8,17.1,17.4,18.0,18.4,18.7],[11.2,15.0,15.5,15.8,16.3,16.6,16.9,17.2,17.5,17.8,18.2,18.5,18.8],[11.1,15.6,15.9,16.2,16.5,16.8,17.1,17.4,17.7,18.0,18.3,18.6],[11.0,15.5,15.8,16.2,16.5,16.8,17.1,17.4,17.7,18.1,18.4,18.7,20.2],[10.9,16.0,16.3,16.6,16.9,17.2,17.5,17.8,18.2,18.5],[10.8,16.1,16.4,16.7,17.0,17.3,17.6,18.0,18.3,18.6,20.0],[10.7,16.2,16.5,16.8,17.1,17.4,17.7,18.0,18.3,18.6,18.9],[10.6,16.1,16.3,16.6,16.9,17.2,17.5,17.8,18.1,18.4,18.7,19.0,19.3],[10.5,16.2,16.4,16.7,17.0,17.3,17.6,18.0,18.3,18.6,18.9,19.2],[10.4,16.2,16.5,16.8,17.1,17.4,17.8,18.2,18.5,18.8,19.1],[10.3,16.4,16.7,17.0,17.3,17.6,18.4,18.7,19.0],[10.2,16.5,16.8,17.1,17.4,18.3,18.8,19.2],[10.0,16.7,17.1,17.5],[9.85,17.0],
[11.35,9.0,9.4,10.0,10.5,11.1],[11.25,9.0,9.3,9.7,10.2,10.7,11.0],[11.16,8.17,8.8,9.1,9.4,9.7,10.0,10.3,10.6,10.9,11.2],[11.05,9.0,9.3,9.6,9.9,10.2,10.5,10.8,11.1],[10.95,8.9,9.2,9.5,9.8,10.1,10.4,10.7,11.0,11.3],[10.85,9.1,9.4,9.7,10.0,10.3,10.6,10.9,11.2],[10.75,9.0,9.3,9.6,9.9,10.2,10.5,10.8,11.1],[10.65,9.1,9.4,9.7,10.0,10.3,10.6,11.0],[10.55,9.0,9.3,9.6,9.9,10.2,10.5,10.9,11.2],[10.42,8.24,9.2,9.6,10.0,10.4,10.8,11.1],[10.2,9.4,9.8,10.1,10.9,11.3],[10.09,7.88,8.8,9.5],[9.95,8.5,9.6,11.8],
[10.85,5.5],[10.7,5.0,5.3,5.6,5.9,6.2,6.6],[10.6,4.7,5.1,5.4,5.7,6.0,6.4,6.7],[10.5,4.5,4.8,5.1,5.4,5.7,6.0,6.3,6.6,6.9],[10.4,4.3,4.6,4.9,5.2,5.5,5.8,6.1,6.4,6.8],[10.3,2.5,4.2,4.5,4.8,5.1,5.4,5.7,6.0,6.3,6.6,7.0],[10.2,4.1,4.4,4.7,5.0,5.3,5.6,5.9,6.2,6.5,6.8],[10.1,2.7,3.1,4.0,4.3,4.6,4.9,5.2,5.5,5.8,6.1,6.4,6.7],[10.0,3.2,4.1,4.4,4.7,5.0,5.3,5.6,5.9,6.3,6.6],[9.9,3.3,4.0,4.3,4.6,4.9,5.2,5.5,5.8,6.1,6.5,6.8],[9.8,4.2,4.5,4.8,5.1,5.4,5.7,6.0,6.3],[9.7,3.6,4.1,4.4,4.7,5.0,5.3,5.6,5.9,6.2,6.4],[9.6,4.3,4.6,4.9,5.2,5.5,5.8,6.0],[9.5,3.6,4.3,4.6,4.9,5.2,5.5,5.8,6.1],[9.3,4.4,4.8,5.1,5.6,5.8],[9.1,4.5,5.6]];
const a11 = [[5.2,3.1,3.7,4.2,5.0,5.5],[5.1,3.2,3.5,3.8,4.6,5.2,5.6],[5.0,3.0,3.3,3.6,3.9,4.5,5.0,5.4,5.7,13.58],[4.9,2.9,3.2,3.5,3.8,5.3,5.6,6.0,10.9,11.4,12.2,12.6],[4.85,3.1,3.3,3.6,3.9,5.5,5.9,6.3,10.7,11.2,11.6,12.0,12.3,12.6,12.9],[4.73,13.5,11.0,11.4,11.8,12.1,12.4,12.7,13.0,3.0,3.3,3.6],[4.65,2.9,3.2,3.5,3.8,5.5,5.8,6.1,6.4,10.9,11.3,11.7,12.0,12.3,12.6],[4.6,2.8,3.1,3.4,3.7,4.0,4.3,5.4,5.7,6.0,6.3,10.8,11.1,11.5,11.8,12.1,12.4,12.7],[4.5,2.8,3.2,3.5,3.8,4.1,4.4,4.7,5.0,5.3,5.6,5.9,6.2,6.5,11.0,11.3,11.6,12.0,12.3],[4.4,2.7,3.0,3.3,3.6,3.9,4.2,4.5,4.8,5.1,5.4,5.7,6.0,6.4,6.6,11.0,11.3,11.6,11.9,12.2],[4.3,2.8,3.1,3.4,3.7,4.0,4.3,4.6,4.9,5.2,5.5,5.8,6.1,6.5,11.5,11.9],[4.25,2.7,3.0,3.5,4.5,5.0,5.3,5.6,5.9,6.2,6.5,7.0,7.4,7.8,11.4,11.8],[4.15,5.0,5.4,5.7,6.0,6.3,6.7,7.1,7.5],[4.05,5.8,6.1,6.4,6.8,7.1,7.4,7.7,8.0,8.5,8.8],[3.95,6.1,6.5,6.9,7.2,7.5,7.8,8.2,8.6],[3.85,6.2,6.7,7.0,7.3,7.6,7.9,8.3,8.6],[3.75,6.7,7.0,7.4,7.7,8.0],[3.65,6.9,7.2,7.5,7.8],[3.45,7.4,7.7]];
const a12 = [[4.16,20.63],[4.04,19.63],[4.27,14.2],[3.95,15.6,15.9],[3.83,18.6,19.2],[3.75,14.9,15.2,15.5,15.8,16.0,14.6],[3.6,15.0,15.3,15.9],[3.57,19.36],[3.5,13.4,13.7,14.3,14.6,14.8,15.9],[3.4,13.2,13.5,13.8,14.1,14.4],[3.32,16.39,13.1,13.3,13.6,13.9,14.0],[3.25,12.9,13.2,13.5,13.8,14.1],[3.15,12.7,13.0,13.3,13.6,13.9,14.1,6.6,7.0],[2.96,11.3,11.8,13.2,13.6,14.1,8.0],[2.88,11.2,11.5,11.9,12.2,12.6],[2.8,2.5,2.8,3.1,3.4,3.7,4.0,4.3,4.6,4.9,5.2,5.4,5.8,6.3,7.6,8.0,11.1,11.4,11.7,12.0,12.3,12.6,12.9],[2.7,2.6,2.9,3.2,3.5,3.8,4.1,4.4,4.7,5.0,5.3,11.2,11.5,11.8,12.1,12.4,12.7],[2.6,2.4,2.7,3.0,3.3,3.6,3.9,4.2,4.5,4.8,5.1,5.4,6.0,6.8,7.4,7.7,8.3,11.0,11.3,11.6,11.9,12.2,12.5],[2.52,2.6,3.0,3.4,3.8,4.2,4.6,5.0,11.1,11.4,11.7,12.0,12.3],[2.45,2.8,3.2,3.6,4.0,4.4,4.8,5.2,6.7,7.7,8.1,8.5,9.0,9.4,10.0,11.0,11.3,11.6,11.9,12.85],[2.38,11.1,11.4,11.7,12.1],[2.3,7.5,7.9,8.4,8.8,9.3,9.7,10.2,10.7,11.0,11.3,11.6,11.9],[2.2,10.9,11.2,11.5,11.8],[2.1,8.0,8.4,9.0,9.6,10.0,10.9,11.2,11.5],[1.92,8.88,10.0,11.0,11.3]];
const a13 = [[4.41,2.4],[4.22,2.28],[3.92,2.32],[3.71,2.54]];
const a14 = [[4.18,15.36],[4.08,14.82],[4.15,6.0,6.4],[4.0,2.9,3.4,3.9,4.3,4.7,5.1,5.6,6.0,6.3,9.1,9.5,15.55,10.1],[3.9,3.0,3.3,3.6,4.1,4.5,4.9,5.3,5.8,6.2,8.9,9.3,9.7],[3.8,2.8,3.1,3.4,3.7,4.0,4.3,4.6,4.9,5.2,5.5,5.8,6.1,6.5,8.4,8.8,9.1,9.4,9.7,10.1,11.0],[3.7,2.7,3.0,3.3,3.5,3.8,4.1,4.4,4.7,5.0,5.3,5.6,5.9,6.2,8.2,8.5,8.9,9.2,9.6,9.9],[3.6,2.6,3.0,3.3,3.6,3.9,4.2,4.5,4.8,5.1,5.4,5.7,6.0,6.3,6.6,8.0,8.3,8.6,8.9,9.2,9.5,9.8,10.1,12.7,13.4],[3.5,2.7,3.1,3.4,3.7,4.0,4.3,4.6,4.9,5.2,5.5,5.8,6.1,6.4,7.8,8.1,8.4,8.7,9.0,9.3,9.6,9.9],[3.49,15.51],[3.4,2.6,2.9,3.2,3.5,3.8,4.1,4.4,4.7,5.0,5.3,5.6,5.9,6.2,6.5,7.6,7.9,8.2,8.5,8.8,9.1,9.4,9.7,10.0],[3.3,2.7,3.0,3.3,3.6,3.9,4.2,4.5,4.8,5.1,5.4,5.7,6.0,6.3,7.8,8.1,8.4,8.7,9.0,9.3,9.6,9.9],[3.2,2.6,2.9,3.2,3.5,3.8,4.1,4.4,4.7,5.0,5.3,5.6,5.9,6.2,6.5,7.6,8.0,8.4,8.8,9.2,9.6,10.6,11.3],[3.1,2.7,3.0,3.3,3.6,3.9,4.2,4.5,4.8,5.1,5.4,5.7,6.0,6.3,8.9,9.3],[3.0,2.8,3.1,3.4,3.7,4.0,4.3,4.6,4.9,5.2,5.5,5.8,6.1,6.3,7.8,8.7,9.0,9.5,10.0,10.3,11.2],[2.9,3.0,3.3,3.6,3.9,4.2,4.5,4.8,5.1,5.5],[2.8,3.3,3.6,3.9,4.2,4.5,6.1,7.7,8.8,10.0]];
const a15 = [[5.2,4.9],[5.1,4.7,5.0],[5.0,4.5,4.8,5.7],[4.9,4.2,4.6,4.9,5.3],[4.85,4.0,4.3,4.6,4.9,5.2,5.9,6.3],[4.78,3.9,4.4,4.7,5.0,5.5,6.1],[4.7,3.9,4.2,4.5,4.8,5.3,5.6,5.9,6.2,6.5],[4.62,4.3,4.6,4.9,5.4,5.7,6.0,6.3],[4.55,4.2,4.5,4.8,5.1,5.5,5.9,6.2,6.5],[4.45,4.9,5.8,6.1,6.4],[4.4,5.0,6.3,6.6],[4.3,7.2],[4.1,6.8]];
const a16 = [[10.85,10.2],[10.7,10.2,10.6,11.4],[10.5,10.1,10.4,10.7,11.1,11.4,6.78],[10.4,9.9,10.3,10.6,11.0,11.3,11.6],[10.3,6.12,9.6,9.9,10.2,10.5,10.8,11.1,11.4,11.8,4.0],[10.19,6.86,3.27,3.6,4.44,9.5,9.8,10.1,10.4,10.7,11.0,11.3,11.6],[10.1,9.2,9.5,9.8,10.1,10.4,10.7,11.0,11.3,11.6,11.9,4.9,5.4],[10.0,8.9,9.3,9.6,9.9,10.2,10.5,10.8,11.1,11.4,11.7,12.0],[9.9,8.3,8.8,9.1,9.4,9.7,10.0,10.3,10.6,10.9,11.2,11.5,11.8,12.1,12.3,3.0,3.4,3.9,5.0,5.3,6.1],[9.8,7.8,8.1,8.5,8.9,9.2,9.5,9.8,10.1,10.4,10.7,11.0,11.3,11.6,11.9,12.2,12.4],[9.7,7.6,8.0,8.3,8.6,8.9,9.2,9.5,9.8,10.1,10.4,10.7,11.0,11.3,11.6,11.9,12.2,12.5,4.0,4.4,5.1,5.3,6.5],[9.6,7.5,7.8,8.1,8.4,8.7,9.0,9.3,9.6,9.9,10.2,10.5,10.8,11.1,11.4,11.7,12.0,12.3],[9.5,7.4,7.7,8.0,8.3,8.6,8.9,9.2,9.5,9.8,10.1,10.4,10.7,11.0,11.3,11.6,11.9,12.2,4.5,5.9],[9.39,2.98,3.1,5.32,7.6,7.9,8.2,8.5,8.8,9.1,9.4,9.7,10.0,10.3,10.6,10.9,11.2,11.5,11.8,12.1],[9.3,7.08,7.5,7.8,8.1,8.4,8.7,9.0,9.3,9.6,9.9,10.2,10.5,10.8,11.1,11.4,11.7,12.0,12.3],[9.2,7.7,8.0,8.3,8.6,8.9,9.2,9.5,9.8,10.1,10.4,10.7,11.0,11.3,11.6,11.9,12.2],[9.1,7.37,7.6,7.9,8.2,8.5,8.8,9.1,9.4,9.7,10.0,10.3,10.6,10.9,11.2,11.5,11.8,12.1,12.4,6.56],[9.0,7.8,8.1,8.4,8.7,9.0,9.3,9.6,9.9,10.2,10.5,10.8,11.1,11.4,11.7,12.0,12.3],[8.95,2.72,3.42,4.22,4.55,5.4,5.1,7.1],[8.9,7.6,7.9,8.2,8.5,8.8,9.1,9.4,9.7,10.0,10.3,10.6,10.9,11.2,11.5,11.8,12.1,12.5],[8.8,8.0,8.3,8.6,8.9,9.2,9.5,9.8,10.1,10.4,10.7,11.0,11.3,11.6,11.9,12.2],[8.7,7.8,8.1,8.4,8.7,9.0,9.3,9.6,9.9,10.2,10.5,10.8,11.1,11.4,11.7,12.0,12.3],[8.6,8.2,8.5,8.8,9.1,9.4,9.7,10.0,10.3,10.6,10.9,11.2,11.5,11.8,12.1,12.4],[8.58,2.4],[8.5,8.0,8.3,8.6,8.9,9.2,9.5,9.8,10.1,10.4,10.7,11.0,11.3,11.6,11.9,12.2,12.6],[8.4,8.2,8.5,8.8,9.1,9.4,9.7,10.0,10.3,10.6,10.9,11.2,11.5,11.8,12.1,12.5],[8.3,8.1,8.4,8.7,9.0,9.3,9.6,9.9,10.2,10.5,10.8,11.1,11.4,11.7,12.0,12.3,12.7],[8.2,8.3,8.6,8.9,9.2,9.5,9.8,10.1,10.4,10.7,11.0,11.3,11.6,11.9,12.2,12.6],[8.09,7.29,8.4,8.8,9.1,9.4,9.7,10.0,10.3,10.6,10.9,11.2,11.5,11.8,12.1,12.4,12.9],[8.0,8.7,9.0,9.3,9.6,10.0,10.4,10.7,11.0,11.4,11.7,12.0,12.3],[7.9,9.0,9.5,9.9,10.2,10.6,11.0,11.4,11.8,12.0,12.4,12.7,18.48],[7.71,19.94,8.1,10.1,10.4,10.8,11.5],[7.53,10.3,10.15],[11.21,7.22,7.81],[11.77,13.73]];
const a17 = [[4.5,12.7,13.0],[4.45,2.3,2.6],[4.4,12.6,12.9,13.2],[4.3,12.5,12.8,13.1,13.4],[4.2,12.4,12.7,13.0,13.3,13.6],[4.13,16.7,12.3,12.6,12.9,13.2,13.5,13.8],[4.05,12.5,12.8,13.1,13.4,13.7,14.0],[3.95,12.4,12.7,13.0,13.3,13.6,13.9,14.17,14.58],[3.85,12.5,12.8,13.1,13.4,13.7,14.0],[3.75,2.1,12.6,12.9,13.2,13.5,13.8,14.1],[3.65,12.5,13.0,13.4,13.6,13.9],[3.55,12.4,12.8,13.3,13.7,14.1],[3.43,6.89],[3.41,2.32,2.7],[3.15,9.9,10.2,8.5,8.9,9.4],[3.05,8.3,8.7,9.0,9.5,9.8,10.1,10.5],[2.95,8.2,8.5,8.8,9.1,9.4,9.7,10.0,10.3,10.6,10.9],[2.85,8.1,8.4,8.7,9.0,9.3,9.6,9.9,10.2,10.5,10.8],[2.75,8.0,8.3,8.6,8.9,9.2,9.5,9.8,10.1,10.4,10.7,11.0],[2.65,8.1,8.4,8.7,9.0,9.3,9.6,9.9,10.2,10.5,10.8],[2.55,8.2,8.5,8.8,9.1,9.4,9.7,10.0,10.3,10.6,10.9],[2.45,8.3,8.7,9.0,9.3,9.6,9.9,10.2,10.5,10.8],[2.35,8.5,9.0,9.3,9.6,9.9,10.2,10.5,10.8],[2.15,10.0,10.3]];
const a18 = [[4.0,10.6],[3.7,11.4]];
const a19 = [[4.45,3.67],[4.41,3.93],[4.92,7.59],[4.87,8.29],[5.17,8.43],[5.3,9.4,10.0,10.6,11.0,11.4],[5.2,9.2,9.6,9.9,10.3,10.8,11.2],[5.1,9.1,9.4,9.7,10.0,10.3,10.5,10.8,11.1,11.5],[5.0,9.2,9.5,9.9,10.2,10.6,10.9,11.2,11.4],[4.9,9.3,9.7,10.1,10.4,10.7,11.0,11.3],[4.75,9.5,10.2,10.4,10.9,11.2,12.41],[4.55,11.1,11.2],[4.32,11.83],[4.2,11.42],[3.95,9.8,12.5],[3.8,9.9,10.5,11.3,11.7,12.4],[3.7,9.9,10.3,10.9,11.2,11.5,11.9,12.6,12.8],[3.6,10.0,10.5,11.0,11.4,11.7,12.7],[3.5,9.9,10.3,10.7,11.2,11.5,11.9,12.8,13.1],[3.45,9.22],[3.25,10.2,11.8]];
const a20 = [[7.9,7.6],[6.0,9.3,8.2,13.7],[5.85,9.0,12.7,11.6,12.0,12.3,14.1,15.2],[5.78,11.3,11.7,12.1,12.5],[5.7,11.1,11.4,11.7,12.0,12.3,12.6,13.6,14.0,15.1,16.2],[5.62,11.5,11.8,12.1,12.4,13.8],[5.55,9.5,11.3,11.6,11.9,12.2,12.5,13.6,13.9,14.2,14.6,15.0,16.0,16.6],[5.45,11.6,12.1,13.8,14.1,14.5,14.8],[5.4,13.7,14.0,14.4,14.7,15.0,15.3,15.6,16.9,11.5],[5.3,13.8,14.1,14.5,14.8,15.1,15.4,15.7,16.0],[5.25,13.7,14.0,14.4,14.7,15.2,15.6,15.9,16.2,17.2,17.7,12.6],[5.13,14.4,15.1,15.6,15.9,16.3,16.7,19.02,13.7],[4.95,15.0,15.6,16.0,16.4,17.0,17.5,11.5],[4.73,15.4,16.2,16.6,17.6,11.8],[4.5,15.5,16.3,11.8],[4.36,15.5]];
const seriesA = [a0,a1,a2,a3,a4,a5,a6,a7,a8,a9,a10,a11,a12,a13,a14,a15,a16,a17,a18,a19,a20];

// --- panel b ---
const b0 = [[0.936,-0.509],[0.92,-0.549],[0.916,-0.496],[0.911,-0.531],[0.907,-0.711],[0.9,-0.507],[0.891,-0.555,-0.499],[0.878,-0.652,-0.536],[0.873,-0.499],[0.861,-0.567],[0.799,-0.689],[0.712,-0.801],[0.7,-0.888],[0.668,-0.821],[0.658,-0.838],[0.65,-0.863,-0.832],[0.648,-0.303],[0.632,-0.802],[0.624,-0.851],[0.619,-0.816],[0.585,-0.284],[0.581,-0.776],[0.568,-0.28,-0.262],[0.561,-0.307],[0.55,-0.27,-0.25],[0.456,-0.494],[0.454,-0.475],[0.43,-0.492]];
const b1 = [[0.06,-0.6],[0.05,-0.61,-0.59],[0.03,-0.63,-0.6,-0.57,-0.99,-0.97,-0.94],[0.02,-0.62,-0.58,-0.56,-0.98,-0.95,-0.92],[0.01,-0.98,-0.96,-0.95,-0.93,-0.9,-0.61,-0.59,-0.57,-0.55,-0.52,-0.47,-0.43],[0.0,-0.97,-0.94,-0.92,-0.6,-0.58,-0.56,-0.53,-0.5],[-0.01,-1.05,-1.03,-0.99,-0.97,-0.95,-0.93,-0.91,-0.64,-0.6,-0.58,-0.56,-0.54,-0.5,-0.47,-0.45],[-0.02,-0.98,-0.96,-0.94,-0.92,-0.9,-0.62,-0.59,-0.57,-0.55,-0.52,-0.49,-0.46],[-0.03,-1.05,-1.0,-0.98,-0.96,-0.94,-0.92,-0.89,-0.87,-0.61,-0.59,-0.57,-0.55,-0.53,-0.51,-0.49],[-0.04,-0.99,-0.97,-0.95,-0.93,-0.91,-0.88,-0.62,-0.6,-0.58,-0.56,-0.54,-0.52,-0.5],[-0.05,-1.04,-0.99,-0.97,-0.95,-0.93,-0.9,-0.87,-0.86,-0.63,-0.61,-0.59,-0.57,-0.55,-0.53,-0.51,-0.49],[-0.06,-1.03,-1.01,-0.98,-0.96,-0.94,-0.91,-0.89,-0.62,-0.6,-0.58,-0.56,-0.54,-0.52],[-0.07,-1.04,-1.02,-1.0,-0.98,-0.96,-0.94,-0.92,-0.89,-0.87,-0.62,-0.6,-0.58,-0.56,-0.54,-0.5],[-0.08,-1.03,-1.01,-0.99,-0.97,-0.95,-0.93,-0.9,-0.88,-0.61,-0.59,-0.57,-0.55],[-0.09,-1.05,-1.03,-1.01,-0.99,-0.97,-0.95,-0.93,-0.9,-0.88,-0.86,-0.61,-0.58,-0.55,-0.52,-0.47],[-0.1,-1.05,-1.02,-1.0,-0.98,-0.96,-0.94,-0.91,-0.89],[-0.11,-1.06,-1.04,-1.02,-1.0,-0.98,-0.96,-0.94,-0.92,-0.89,-0.87],[-0.12,-1.05,-1.03,-1.01,-0.99,-0.97,-0.95,-0.93,-0.9],[-0.127,-1.084,-1.05,-1.03,-1.01,-0.98,-0.95,-0.93,-0.91,-0.88,-0.62,-0.58,-0.54],[-0.14,-1.06,-1.04,-1.02,-0.99,-0.97,-0.94,-0.92,-0.89],[-0.15,-1.06,-1.03,-1.0,-0.97,-0.95,-0.92,-0.9,-0.88,-0.64,-0.6,-0.56,-0.55],[-0.16,-1.04,-1.01,-0.98,-0.96,-0.93,-0.91],[-0.17,-1.05,-1.02,-0.99,-0.96,-0.93,-0.91,-0.87,-0.57],[-0.19,-1.07,-1.0,-0.97,-0.94,-0.92,-0.85,-0.54],[-0.21,-0.99,-0.95,-0.9,-0.87,-0.59],[-0.24,-1.03,-0.96,-0.93,-0.89],[-0.27,-1.0,-0.97,-0.91,-0.86],[-0.3,-1.04,-0.98,-0.94,-0.9],[-0.33,-1.03,-1.0,-0.96],[-0.38,-0.97,-0.93,-0.91,-0.98],[-0.4,-1.02,-0.95,-0.89],[-0.43,-1.0,-0.96]];
const b2 = [[0.45,1.09],[0.41,1.12],[0.38,0.98,1.03],[0.36,0.71,0.74,0.96,1.0,1.02,1.05],[0.34,0.69,0.72,0.75,0.78,0.94,0.98,1.01,1.04],[0.33,0.7,0.73,0.77,0.8,0.83,0.86,0.89,0.92,0.95,0.99,1.02],[0.32,0.7,0.73,0.76,0.79,0.82,0.85,0.88,0.91,0.94,0.97,1.0,1.03],[0.31,0.72,0.75,0.78,0.81,0.84,0.87,0.9,0.93,0.96,0.99],[0.3,0.74,0.77,0.8,0.84,0.87,0.9,0.93,0.96,0.99],[0.29,0.75,0.78,0.82,0.85,0.88,0.91,0.94],[0.28,0.73,0.76,0.79,0.83,0.86,0.89,0.92,0.95],[0.31,0.44,0.46,0.48,0.49],[0.3,0.43,0.47,0.5,0.27],[0.285,0.28,0.3,0.33,0.45,0.48],[0.27,0.28,0.31,0.34,0.37,0.4,0.43],[0.26,0.29,0.32,0.35,0.38,0.41],[0.255,0.31,0.34,0.37,0.39,0.42],[0.245,0.34,0.36]];
const b3 = [[-0.87,0.16],[-0.89,0.18,0.2],[-0.92,0.15,0.21],[-0.95,0.19,0.22,0.17],[-0.98,0.2,0.23,0.18],[-1.0,0.03],[-1.03,0.13,0.15],[-1.07,0.05],[-1.14,0.12,0.11],[-0.39,0.015,0.045],[-0.37,0.04]];
const b4 = [[-0.07,0.06,0.08],[-0.1,0.05,0.07,0.09],[-0.23,0.06,0.08,0.1],[-0.24,0.07,0.09,0.11],[-0.25,0.05,0.07,0.09,0.11],[-0.26,0.06,0.08,0.1],[-0.27,0.05,0.08,0.1,0.11],[-0.66,0.16,0.2,0.22],[-0.68,0.15,0.18,0.21,0.24],[-0.69,0.14,0.17,0.2,0.23,0.25],[-0.71,0.16,0.2,0.23,0.25,0.26],[-0.72,0.15,0.19,0.22,0.24],[-0.73,0.15,0.18,0.21,0.24],[-0.75,0.14,0.17,0.2,0.23],[-0.76,0.14,0.17,0.19,0.22,0.24,0.25],[-0.78,0.13,0.16,0.19,0.22],[-0.79,0.12,0.15,0.18,0.21,0.23],[-0.8,0.09,0.12,0.14,0.17,0.2,0.22],[-0.81,0.08,0.11,0.14,0.17,0.2,0.22],[-0.82,0.07,0.1,0.12,0.15,0.18,0.21],[-0.83,0.07,0.1,0.13,0.16,0.19,0.2,0.24],[-0.84,0.08,0.1,0.12,0.15,0.18,0.21],[-0.85,0.06,0.08,0.11,0.14,0.17,0.19,0.26],[-0.86,0.07,0.09,0.12,0.15,0.18],[-0.87,0.08,0.1,0.13,0.16,0.19,0.26],[-0.89,0.07,0.1,0.13,0.16,0.18]];
const b6 = [[0.833,-0.869],[0.81,-0.849],[0.775,-0.845,-0.81,-0.79],[0.76,-0.815,-0.8,-0.78],[0.74,-0.81,-0.79,-0.77,-0.76],[0.72,-0.812,-0.79,-0.775,-0.76],[0.705,-0.78,-0.77,-0.75,-0.74],[0.69,-0.76,-0.74],[0.5,-0.49,-0.48],[0.48,-0.48,-0.47,-0.45,-0.44],[0.46,-0.47,-0.45,-0.44,-0.42],[0.45,-0.46,-0.44,-0.43,-0.42],[0.44,-0.42]];
const b7 = [[0.096,-0.95,-0.94,-0.92,-0.85,-0.81],[0.08,-0.96,-0.95,-0.93,-0.92,-0.9,-0.89,-0.86,-0.85],[0.07,-0.95,-0.93,-0.91,-0.89,-0.87,-0.84],[0.06,-0.96,-0.94,-0.92,-0.9,-0.88,-0.87,-0.85,-0.84],[0.05,-0.97,-0.95,-0.93,-0.91,-0.89,-0.86],[0.04,-0.95,-0.93,-0.91,-0.89,-0.87,-0.85,-0.83,-0.77],[0.03,-0.96,-0.94,-0.92,-0.9,-0.88,-0.86],[0.02,-0.99,-1.0,-0.96,-0.94,-0.92,-0.9,-0.88,-0.86,-0.83,-0.8,-0.79],[0.0,-0.97,-0.95,-0.93,-0.89,-0.86,-0.85],[-0.03,-1.05,-1.03],[-0.04,-1.0,-0.92],[-0.07,-1.0,-0.97,-0.89,-0.87,-0.82],[-0.09,-0.99,-0.97,-0.94,-0.91],[-0.12,-1.02,-0.93,-0.91],[-0.14,-1.03,-1.0,-0.97,-0.94,-0.89],[-0.16,-1.04,-1.03,-0.96,-0.93],[-0.18,-1.07,-1.04,-1.0,-0.96],[-0.2,-1.04,-1.02,-1.0,-0.94,-0.9,-0.87],[-0.22,-1.01,-1.0,-0.9,-0.92],[-0.24,-0.96,-0.93,-0.9,-0.88],[-0.27,-0.98,-0.97,-0.95,-0.91],[-0.28,-1.07,-1.05],[-0.3,-1.02,-0.99,-0.85],[-0.32,-1.03,-0.97],[-0.35,-1.11,-1.08,-1.05],[-0.38,-1.0,-0.96],[-0.4,-1.06,-0.98,-0.93,-0.88],[-0.43,-0.99,-0.96,-0.85,-0.88,-0.9],[-0.45,-0.92,-0.89],[-0.46,-1.03,-0.98],[-0.48,-0.99,-0.94,-0.91],[-0.5,-0.99,-0.91,-0.89],[-0.52,-0.96,-0.91],[-0.54,-1.0,-0.95],
[0.1,-0.48,-0.45,-0.43,-0.41,-0.4],[0.09,-0.47,-0.44,-0.42,-0.39],[0.085,-0.56,-0.54,-0.5,-0.47,-0.44,-0.42,-0.4,-0.38],[0.07,-0.55,-0.52,-0.5,-0.48,-0.46,-0.44,-0.42,-0.41,-0.38],[0.06,-0.53,-0.51,-0.49,-0.47,-0.45,-0.43],[0.05,-0.56,-0.54,-0.52,-0.49,-0.47,-0.45,-0.43],[0.04,-0.55,-0.53,-0.5,-0.48,-0.46],[0.03,-0.55,-0.53,-0.51,-0.49,-0.47,-0.46],[0.02,-0.56,-0.54,-0.52,-0.5,-0.48],[0.01,-0.56,-0.54,-0.52,-0.5,-0.48,-0.47],[-0.01,-0.55,-0.58,-0.52,-0.5,-0.48],[-0.04,-0.56,-0.49,-0.47,-0.46],[-0.07,-0.54,-0.51,-0.49,-0.47],[-0.09,-0.5,-0.49,-0.47],[-0.12,-0.52,-0.5,-0.48],[-0.15,-0.53,-0.5,-0.47],[-0.18,-0.55,-0.52,-0.5],[-0.21,-0.53,-0.5],[-0.23,-0.57,-0.55,-0.54],[-0.26,-0.6,-0.52],
[0.84,-0.795],[0.81,-0.78,-0.77],[0.8,-0.79,-0.76],[0.79,-0.78,-0.75],[0.78,-0.75,-0.71],[0.74,-0.7],[0.73,-0.68],[0.71,-0.67],[0.685,-0.67],[0.68,-0.69],[0.655,-0.67],[0.52,-0.49],[0.5,-0.46,-0.44],[0.49,-0.45,-0.43],[0.47,-0.46,-0.43,-0.41],[0.46,-0.4]];
const b8 = [[0.47,1.04],[0.455,1.05],[0.43,1.03,1.06],[0.42,0.85,0.89,0.93,0.98,1.01,1.05],[0.41,0.86,0.91,0.95,0.99,1.03],[0.4,0.83,0.87,0.92,0.95,0.98,1.0],[0.39,0.81,0.84,0.88,0.91,0.94,0.97,1.0],[0.38,0.71,0.74,0.76,0.78,0.8,0.83,0.85,0.88,0.91,0.93,0.96,0.99],[0.37,0.75,0.77,0.79,0.82,0.84,0.87,0.9,0.92,0.95],[0.36,0.75,0.77,0.8,0.82,0.84,0.86,0.89,0.92,0.95,0.97],[0.35,0.74,0.76,0.79,0.81,0.83,0.85,0.88,0.91,0.93],[0.34,0.655,0.7,0.73,0.76,0.78,0.8,0.82,0.84,0.87,0.9,0.94],[0.33,0.74,0.77,0.79,0.81,0.84,0.87],[0.32,0.74,0.78,0.83],[0.35,0.32,0.35],[0.34,0.31,0.36],[0.33,0.3,0.33,0.37,0.39,0.41],[0.32,0.3,0.32,0.36,0.38,0.4,0.42],[0.31,0.29,0.31,0.33,0.4,0.42],[0.3,0.27,0.29,0.31,0.42]];
const b9 = [[-0.08,0.03,0.04],[-0.1,-0.01,0.01,0.03],[-0.11,-0.02,0.0,0.02,0.04],[-0.12,-0.01,0.01,0.03,0.05],[-0.13,-0.02,0.0,0.02,0.04],[-0.14,-0.03,-0.01,0.01,0.03,0.05],[-0.15,-0.025,-0.005,0.015,0.035,0.05],[-0.16,-0.03,-0.01,0.01,0.03,0.05],[-0.17,-0.03,-0.01,0.01,0.03,0.05],[-0.18,-0.04,-0.02,0.0,0.02,0.04,0.06],[-0.19,-0.035,-0.015,0.005,0.025,0.045,0.06],[-0.2,-0.04,-0.02,0.0,0.02,0.04,0.06],[-0.21,-0.03,-0.01,0.01,0.03,0.05,0.06],[-0.22,-0.04,-0.02,0.0,0.02,0.04],[-0.23,-0.03,-0.01,0.01,0.03,0.05],[-0.24,-0.02,0.0,0.02,0.04],[-0.25,-0.03,-0.01,0.01,0.03,0.06],[-0.27,-0.0,0.02,0.04],
[-0.6,0.0],[-0.62,0.05,0.06,0.07,0.08],[-0.63,0.04,0.06,0.08,0.1],[-0.64,0.02,0.03,0.05,0.07,0.09,0.1,0.12],[-0.65,0.02,0.04,0.06,0.08,0.1,0.12],[-0.66,0.01,0.03,0.05,0.07,0.09,0.11,0.13],[-0.67,0.0,0.02,0.04,0.06,0.08,0.1,0.12],[-0.68,-0.04,-0.03,0.0,0.02,0.04,0.06,0.08,0.1,0.12,0.13],[-0.69,-0.04,-0.02,0.0,0.02,0.04,0.06,0.08,0.1,0.12],[-0.7,-0.05,-0.03,-0.01,0.01,0.03,0.05,0.07,0.09,0.11,0.13],[-0.71,-0.04,-0.02,0.0,0.02,0.04,0.06,0.08,0.1,0.12],[-0.72,-0.05,-0.03,-0.01,0.01,0.03,0.05,0.07,0.09,0.11,0.13],[-0.73,-0.04,-0.02,0.0,0.02,0.04,0.06,0.08,0.1,0.12],[-0.74,-0.05,-0.03,-0.01,0.01,0.03,0.05,0.07,0.09,0.11,0.13],[-0.75,-0.04,-0.02,0.0,0.02,0.04,0.06,0.08,0.1,0.12],[-0.76,-0.05,-0.03,-0.01,0.01,0.03,0.05,0.07,0.09,0.11,0.12],[-0.77,-0.04,-0.02,0.0,0.02,0.04,0.06,0.08,0.1],[-0.78,-0.06,-0.04,-0.02,0.0,0.02,0.04,0.06,0.08,0.1,0.12],[-0.79,-0.03,-0.01,0.01,0.03,0.05,0.07,0.09],[-0.8,-0.03,-0.01,0.01,0.03,0.05,0.07,0.09,0.11],[-0.82,-0.07,-0.05,-0.03,-0.01,0.01,0.03,0.05,0.09,0.11],[-0.84,-0.087,-0.06,-0.04,-0.02,0.0,0.02,0.03,0.05,0.06],[-0.86,-0.07,-0.05,-0.02,0.0,0.02],[-0.88,-0.06,-0.05,-0.02,0.01],
[-0.88,0.08,0.09],[-0.9,0.07,0.08,0.1,0.12,0.15,0.17],[-0.92,0.12,0.14,0.16],[-0.94,0.13,0.15,0.19,0.22],[-0.95,0.14,0.16,0.18,0.2],[-0.96,0.14,0.16,0.18,0.2,0.22],[-0.97,0.15,0.17,0.19,0.21],[-0.98,0.15,0.17,0.19,0.21,0.23],[-0.99,0.14,0.16,0.18,0.2,0.22],[-1.0,0.15,0.17,0.19,0.21,0.23],[-1.01,0.14,0.16,0.18,0.2,0.22],[-1.02,0.14,0.16,0.18,0.2,0.22,0.24,0.27],[-1.03,0.13,0.15,0.17,0.19,0.21],[-1.04,0.13,0.15,0.17,0.19,0.21,0.23],[-1.05,0.12,0.14,0.16,0.18,0.2,0.22],[-1.06,0.1,0.12,0.14,0.16,0.18,0.2,0.22,0.24,0.26],[-1.07,0.09,0.11,0.13,0.15,0.17,0.19,0.21,0.23],[-1.08,0.04,0.06,0.09,0.11,0.13,0.15,0.17,0.19,0.21,0.23,0.25,0.27],[-1.09,0.06,0.08,0.1,0.12,0.14,0.16,0.18,0.2],[-1.1,0.05,0.07,0.1,0.12,0.14,0.16,0.18,0.2,0.22,0.24],[-1.12,0.07,0.09,0.11,0.14,0.16,0.18,0.2],[-1.14,0.09,0.12]];
const b12 = [[0.0,-0.38],[-0.03,-0.48,-0.44,-0.41],[-0.05,-0.47,-0.44,-0.42],[-0.07,-0.46,-0.43,-0.4],[-0.09,-0.5,-0.47,-0.44,-0.42],[-0.11,-0.48,-0.45,-0.41,-0.4],[-0.13,-0.47,-0.44,-0.42],[-0.15,-0.52,-0.48,-0.45,-0.43],[-0.17,-0.49,-0.46],[-0.25,-0.5,-0.48,-0.46],[-0.27,-0.51,-0.5,-0.48,-0.46,-0.47],[-0.29,-0.52,-0.5,-0.48,-0.46],[-0.31,-0.53,-0.5,-0.49,-0.47,-0.44],[-0.33,-0.53,-0.51,-0.5,-0.48,-0.45],[-0.34,-0.5,-0.49],
[-0.18,-0.87,-0.84],[-0.21,-0.84,-0.82,-0.81],[-0.24,-0.94,-0.84,-0.83],[-0.25,-0.86,-0.82],[-0.27,-0.95,-0.9,-0.87,-0.84,-0.83,-0.79],[-0.29,-0.95,-0.93,-0.91,-0.89,-0.87,-0.85,-0.86],[-0.31,-0.93,-0.91,-0.88,-0.84,-0.8],[-0.34,-0.85,-0.8],[-0.36,-0.92,-0.88,-0.79],[-0.42,-0.85,-0.82],[-0.47,-0.89,-0.85],[-0.5,-0.94,-0.89,-0.83,-0.8],[-0.53,-0.9,-0.85,-0.82],[-0.55,-0.88,-0.89],[-0.58,-0.87,-0.83,-0.81],[-0.6,-0.91,-0.89,-0.86,-0.84,-0.79],[-0.6,-0.96,-0.92,-0.88],[-0.61,-0.82,-0.8],[-0.64,-0.94,-0.91,-0.89,-0.87],[-0.66,-0.9,-0.88,-0.82,-0.8],[-0.68,-0.94,-0.9,-0.89,-0.87,-0.86]];
const b13 = [[0.6,0.92],[0.58,0.88,0.97,0.99],[0.57,0.85,0.95,1.01],[0.56,0.86,0.89,0.93,0.96,0.98],[0.55,0.82,0.87,0.9,0.92,1.04],[0.54,0.75,0.89,0.91,0.93,0.95,0.97,0.99],[0.53,0.79,0.85,0.87,0.96],[0.52,0.77,0.83,0.86,0.88,0.91,0.93],[0.51,0.81,0.83,0.85,0.87,0.9],[0.5,0.69,0.71,0.74,0.76,0.79,0.81,0.83,0.9],[0.49,0.68,0.7,0.72,0.75,0.78,0.8],[0.47,0.7,0.74,0.76,0.77],[0.46,0.59,0.65,0.68],[0.45,1.01,1.03],[0.43,1.03,1.05],[0.42,0.83,1.0,1.02,1.05,1.06],[0.41,0.84,0.98,1.04],[0.39,0.92,0.93,1.0,1.02,1.03],[0.38,0.86,0.9,0.92,0.95,0.98,1.0,1.05,1.06],[0.37,0.87,0.91,0.94,0.97,0.99,1.03],[0.36,0.8,0.85,0.87,0.9,0.95,0.97,1.02,1.04],[0.35,0.68,0.78,0.8,0.84,0.88,0.92,0.94,0.96,1.0,1.02,1.04,1.06],[0.34,0.76,0.8,0.83,0.85,0.87,0.9,0.93,0.95,0.98,1.0,1.02],[0.33,0.78,0.81,0.84,0.86,0.89,0.92,0.94,0.97,1.01],[0.32,0.73,0.75,0.78,0.8,0.82,0.85,0.88,0.91,0.94,0.96,0.99],[0.31,0.79,0.82,0.84,0.87,0.9,0.93,0.95,0.98],[0.3,0.68,0.76,0.79,0.81,0.83,0.86,0.89,0.92,0.96],[0.29,0.82,0.83,0.87,0.9,0.94],
[0.42,0.33,0.34,0.36],[0.41,0.3,0.32,0.34,0.36,0.37],[0.4,0.29,0.31,0.33,0.35,0.36,0.38],[0.39,0.28,0.3,0.32,0.35,0.37],[0.38,0.26,0.28,0.3,0.31,0.33,0.35],[0.37,0.26,0.27,0.29,0.32,0.34],[0.36,0.26,0.28,0.3,0.33],[0.35,0.24,0.26,0.28],[0.34,0.3,0.37,0.36],[0.33,0.31,0.33,0.35,0.37,0.39,0.4],[0.32,0.34,0.36,0.38,0.41,0.44],[0.31,0.32,0.34,0.36,0.38,0.4,0.42,0.44],[0.3,0.33,0.35,0.37,0.39,0.41,0.43],[0.295,0.33,0.35,0.37,0.39,0.41,0.43],[0.28,0.3,0.34,0.36,0.38,0.4,0.42],[0.27,0.35,0.37,0.39,0.41],[0.26,0.36,0.38]];
const b14 = [[-0.26,-0.04,-0.05],[-0.28,-0.07,-0.05,-0.03,-0.04],[-0.3,-0.08,-0.06,-0.05,-0.03],[-0.31,-0.08,-0.06,-0.04,-0.02],[-0.32,-0.09,-0.07,-0.05,-0.04,-0.02,0.0,0.02,0.04],[-0.33,-0.08,-0.06,-0.04,-0.02,0.0,0.02],[-0.34,-0.08,-0.06,-0.05,-0.03,-0.01,0.01,0.03],[-0.35,-0.09,-0.07,-0.05,-0.03,0.0],[-0.36,-0.1,-0.08,-0.06,-0.04,0.0,0.02],[-0.37,-0.09,-0.07,-0.05,-0.03],[-0.38,-0.1,-0.08,-0.07,-0.05,-0.03,-0.02,-0.01,0.01,0.03],[-0.39,-0.09,-0.07,-0.05,-0.03],[-0.4,-0.11,-0.07,-0.06,-0.04,-0.02],[-0.41,-0.08,-0.06,-0.04],[-0.42,-0.11,-0.09,-0.07,-0.05,-0.03],[-0.43,-0.08,-0.06,-0.04],[-0.44,-0.08,-0.07,-0.05,-0.03],[-0.45,-0.08,-0.06,-0.04],[-0.46,-0.09,-0.07,-0.05,-0.04,-0.02,-0.03],
[-0.24,0.03,0.05,0.06],[-0.25,0.02,0.04,0.06],[-0.26,0.01,0.03,0.05,0.06],[-0.27,0.0,0.02,0.04,0.06],[-0.28,-0.0,0.01,0.03,0.05,0.06],[-0.29,-0.01,0.01,0.03,0.05],[-0.3,-0.01,0.01,0.03,0.05],[-0.31,-0.01,0.01,0.03],[-0.32,-0.01,0.0,0.02],[-0.33,0.0,0.02],[-0.34,-0.01,0.01,0.02],
[-0.9,-0.13,-0.12],[-0.93,-0.19,-0.14,-0.13],[-0.94,-0.15,-0.13],[-0.95,-0.21,-0.16,-0.14,-0.13],[-0.96,-0.15,-0.13],[-0.97,-0.25,-0.23,-0.16,-0.14,-0.12],[-0.98,-0.17,-0.15,-0.13],[-0.99,-0.24,-0.17,-0.15,-0.13,-0.12],[-1.0,-0.17,-0.15,-0.13,-0.11],[-1.01,-0.26,-0.22,-0.18,-0.16,-0.14,-0.12,-0.11],[-1.02,-0.19,-0.17,-0.15,-0.13,-0.11],[-1.03,-0.24,-0.2,-0.18,-0.16,-0.14,-0.12],[-1.04,-0.2,-0.17,-0.15,-0.13,-0.11],[-1.05,-0.25,-0.21,-0.19,-0.17,-0.15,-0.13,-0.12,-0.08],[-1.06,-0.2,-0.18,-0.16,-0.14,-0.12,-0.1],[-1.07,-0.21,-0.19,-0.17,-0.15,-0.13,-0.11,-0.08,-0.02,-0.03],[-1.08,-0.19,-0.17,-0.15,-0.13,-0.11],[-1.09,-0.2,-0.18,-0.16,-0.14,-0.12,-0.1,-0.08,-0.07],[-1.1,-0.17,-0.15,-0.13,-0.11],[-1.11,-0.18,-0.16,-0.14,-0.12,-0.1,-0.05],[-1.12,-0.16,-0.14,-0.12,-0.1],[-1.13,-0.17,-0.15,-0.13,-0.11,-0.09],
[-0.9,0.08,0.09],[-0.91,0.07,0.09],[-0.92,0.06,0.08,0.1],[-0.93,0.06,0.08,0.1,0.12],[-0.94,0.05,0.07,0.09,0.11,0.13],[-0.95,0.05,0.07,0.09,0.11,0.13],[-0.96,0.06,0.08,0.1,0.12,0.14],[-0.97,0.06,0.08,0.1,0.12],[-0.98,0.07,0.09,0.11,0.13,0.15],[-0.99,0.06,0.08,0.1,0.12,0.14],[-1.0,0.05,0.07,0.09,0.11,0.13],[-1.01,0.06,0.08,0.1,0.12],[-1.02,0.04,0.06,0.08,0.1,0.12,0.0],[-1.03,0.05,0.07,0.09,0.11],[-1.04,0.05,0.07,0.09,0.11,0.12,0.02],[-1.05,0.06,0.08,0.1],[-1.06,0.06,0.08,0.1,0.12,-0.02],[-1.07,0.05,0.07,0.09],[-1.08,0.05,0.07,0.09,0.14],[-1.09,0.06,0.08,0.1],[-1.1,0.05,0.07,0.09,0.11,0.13],[-1.12,0.05,0.08,0.1],[-1.14,0.05,0.07,0.09],[-1.16,0.1]];
const b15 = [[-0.57,0.14],[-0.63,0.12,0.13,0.15],[-0.65,0.16,0.19],[-0.66,0.15,0.17],[-0.67,0.14,0.16,0.17],[-0.68,0.14,0.16,0.18,0.2],[-0.69,0.13,0.15,0.17,0.19,0.21,0.25,0.33],[-0.7,0.14,0.16,0.18,0.2,0.22],[-0.71,0.13,0.15,0.17,0.19,0.2,0.22,0.24,0.26,0.3],[-0.72,0.14,0.16,0.18,0.2,0.23],[-0.73,0.12,0.14,0.16,0.18,0.2,0.22,0.24,0.27],[-0.74,0.13,0.15,0.17,0.19,0.21],[-0.745,0.06,0.11,0.13,0.15,0.17,0.19,0.21,0.335],[-0.76,0.13,0.15,0.17,0.19],[-0.77,0.12,0.14,0.16,0.18,0.2,0.25],[-0.78,0.13,0.15,0.17,0.19,0.21],[-0.79,0.13,0.15,0.17,0.19,0.21,0.23,0.25],[-0.8,0.14,0.16,0.18,0.2],[-0.81,0.13,0.15,0.17,0.19,0.21,0.06],[-0.82,0.14,0.16,0.18,0.2],[-0.83,0.14,0.16,0.18,0.2,0.08],[-0.85,0.15,0.17,0.07,0.58,0.6],[-0.88,0.11,0.62],[-0.96,0.11],[-0.88,-0.0],[-0.8,0.62,0.6],[-0.82,0.58,0.63],
[-0.07,0.04],[-0.09,0.05,0.06,0.07],[-0.1,0.06,0.08],[-0.11,0.06,0.07,0.08,0.1],[-0.12,0.06,0.08,0.09,0.11],[-0.13,0.07,0.09,0.1],[-0.14,0.04,0.06,0.08,0.1,0.11],[-0.15,0.05,0.07,0.09,0.1,0.12],[-0.16,0.06,0.07,0.09,0.11,0.13,0.14],[-0.17,0.05,0.07,0.09,0.1,0.12],[-0.18,0.06,0.08,0.1,0.11,0.13],[-0.19,0.06,0.08,0.1,0.12],[-0.2,0.05,0.07,0.09,0.11,0.14],[-0.21,0.07,0.09,0.11],[-0.22,0.07,0.09,0.11,0.14],[-0.25,0.16],[-0.32,0.35]];
const b16 = [[-0.1,0.2,0.21],[-0.12,0.18,0.19,0.21,0.22],[-0.13,0.18,0.2,0.22,0.23],[-0.14,0.17,0.19,0.21,0.23,0.24],[-0.15,0.18,0.2,0.22,0.24,0.25],[-0.16,0.18,0.2,0.22,0.24,0.25,0.26],[-0.17,0.17,0.19,0.21,0.23,0.25,0.27],[-0.18,0.16,0.18,0.2,0.22,0.24,0.26,0.27,0.28],[-0.19,0.19,0.21,0.23,0.25,0.27,0.29],[-0.2,0.2,0.22,0.24,0.26,0.28,0.29,0.3],[-0.21,0.21,0.23,0.25,0.27,0.29,0.3],[-0.22,0.22,0.24,0.26,0.28,0.3,0.31],[-0.23,0.25,0.27,0.29,0.31],[-0.24,0.27,0.29,0.31,0.32],[-0.26,0.3,0.31,0.32],[-0.28,0.3,0.31],
[-0.51,0.49],[-0.53,0.54],[-0.56,0.46,0.48,0.5,0.53,0.56,0.58],[-0.57,0.45,0.47,0.49,0.52,0.55,0.57,0.59],[-0.58,0.44,0.46,0.49,0.51,0.53,0.55,0.57,0.59],[-0.59,0.43,0.46,0.48,0.5,0.52,0.54,0.56,0.58,0.6],[-0.6,0.43,0.45,0.47,0.49,0.51,0.53,0.55,0.57,0.59,0.61],[-0.61,0.42,0.45,0.47,0.49,0.51,0.53,0.55,0.57,0.59,0.61],[-0.62,0.43,0.46,0.48,0.5,0.52,0.54,0.56,0.58,0.6,0.62],[-0.63,0.42,0.44,0.46,0.48,0.5,0.52,0.54,0.56,0.58,0.6,0.62],[-0.64,0.47,0.49,0.51,0.53,0.55,0.57,0.59,0.61,0.63],[-0.65,0.46,0.5,0.53,0.55,0.57,0.59,0.61,0.62],[-0.66,0.51,0.53,0.55,0.57,0.59,0.61,0.63],[-0.67,0.52,0.54,0.56,0.58,0.6,0.62,0.63],[-0.68,0.55,0.57,0.59,0.61,0.63],[-0.69,0.54,0.56,0.58,0.6,0.62,0.64],[-0.7,0.57,0.59,0.61,0.63],[-0.71,0.57,0.59,0.61,0.63],[-0.72,0.6,0.62,0.64],[-0.73,0.6,0.62,0.64,0.66],[-0.75,0.6,0.62,0.63,0.65,0.67],[-0.77,0.64,0.66,0.68],[-0.79,0.62,0.64],[-0.85,0.65]];
const b18 = [[-0.08,-0.41],[-0.02,-0.5,-0.44],[-0.05,-0.46,-0.42],[-0.07,-0.49],[-0.09,-0.44,-0.41],[-0.1,-0.45,-0.43,-0.41],[-0.11,-0.46,-0.44,-0.42,-0.41],[-0.12,-0.45,-0.43,-0.41],[-0.13,-0.46,-0.44,-0.42,-0.41,-0.4],[-0.14,-0.47,-0.45,-0.43,-0.41],[-0.15,-0.48,-0.45,-0.43,-0.42,-0.41],[-0.16,-0.47,-0.45,-0.43,-0.41],[-0.17,-0.46,-0.44,-0.42,-0.4],[-0.18,-0.48,-0.46,-0.44,-0.42],[-0.19,-0.49,-0.47,-0.45,-0.43,-0.42],[-0.2,-0.49,-0.47,-0.45],[-0.21,-0.5,-0.48,-0.46,-0.44],[-0.23,-0.5,-0.48],[-0.27,-0.47],[-0.28,-0.54],
[-0.07,-0.87],[-0.1,-0.85],[-0.11,-0.98,-0.91],[-0.18,-1.0],[-0.27,-0.93],[-0.31,-0.87,-0.85,-0.86],[-0.36,-0.94,-0.91,-0.88,-0.85,-0.83],[-0.38,-0.93,-0.89,-0.86,-0.84,-0.82],[-0.4,-0.89,-0.83,-0.81],[-0.42,-0.84,-0.81],[-0.44,-0.96,-0.94,-0.83,-0.81,-0.86],[-0.46,-0.93,-0.88,-0.82],[-0.49,-0.98,-0.87,-0.85],[-0.5,-1.0,-0.99],[-0.52,-0.96,-0.87],[-0.56,-0.91]];
const b19 = [[-0.3,0.04,0.06,0.07],[-0.31,0.03,0.05,0.07],[-0.32,0.04,0.05,0.07,0.08],[-0.33,0.03,0.05,0.07],[-0.34,0.03,0.05,0.06,0.08],[-0.35,0.02,0.04,0.06],[-0.36,0.02,0.04,0.06,0.07],[-0.375,0.01,0.04,0.07],[-0.385,0.09],[-0.39,0.01,0.04]];
const b20 = [[-0.17,0.18],[-0.22,0.19],[-0.24,0.19,0.2,0.23,0.3],[-0.25,0.16,0.18,0.2,0.22,0.24,0.26],[-0.26,0.15,0.17,0.19,0.2,0.22,0.24,0.26,0.27],[-0.27,0.14,0.16,0.18,0.2,0.22,0.24,0.26,0.28],[-0.28,0.13,0.14,0.16,0.18,0.2,0.22,0.24,0.26,0.28,0.31],[-0.29,0.14,0.16,0.18,0.2,0.22,0.24,0.26,0.28,0.3],[-0.3,0.13,0.15,0.17,0.19,0.21,0.23,0.25,0.27,0.29,0.32],[-0.31,0.16,0.18,0.2,0.22,0.24,0.26,0.28,0.3,0.32],[-0.32,0.15,0.17,0.19,0.21,0.23,0.25,0.27,0.29,0.31,0.33],[-0.33,0.19,0.21,0.23,0.25,0.27,0.29,0.31,0.33],[-0.34,0.2,0.22,0.24,0.26,0.28,0.3,0.32,0.33,0.364],[-0.35,0.24,0.26,0.28,0.3,0.32],[-0.36,0.23,0.25,0.27,0.3,0.32,0.33],[-0.37,0.26,0.3,0.31],
[-0.63,0.43,0.44],[-0.64,0.38,0.4,0.43,0.45],[-0.65,0.39,0.41,0.46,0.48],[-0.66,0.38,0.4,0.42,0.44,0.47],[-0.67,0.36,0.38,0.4,0.42,0.44,0.46,0.48,0.5],[-0.68,0.37,0.39,0.41,0.43,0.45,0.47,0.49,0.51],[-0.69,0.39,0.41,0.43,0.45,0.47,0.49,0.52],[-0.7,0.38,0.4,0.42,0.44,0.46,0.48,0.5,0.53,0.55],[-0.71,0.36,0.38,0.4,0.42,0.44,0.46,0.48,0.5,0.52,0.54,0.56],[-0.72,0.37,0.39,0.41,0.43,0.45,0.47,0.49,0.51,0.53,0.55,0.57],[-0.73,0.34,0.37,0.39,0.41,0.43,0.45,0.47,0.49,0.51,0.53,0.55,0.57,0.58,0.6],[-0.74,0.36,0.38,0.4,0.42,0.44,0.46,0.48,0.5,0.52,0.54,0.56,0.58,0.59],[-0.75,0.35,0.37,0.39,0.41,0.43,0.45,0.47,0.49,0.51,0.53,0.55,0.57,0.59,0.6],[-0.76,0.36,0.38,0.4,0.42,0.44,0.46,0.48,0.5,0.52,0.54,0.56,0.58,0.6,0.61],[-0.77,0.37,0.39,0.41,0.43,0.45,0.47,0.49,0.51,0.53,0.55,0.57,0.59,0.6,0.62],[-0.78,0.38,0.4,0.42,0.44,0.46,0.48,0.5,0.52,0.54,0.56,0.58,0.6,0.62],[-0.79,0.35,0.38,0.4,0.42,0.44,0.46,0.48,0.5,0.52,0.54,0.56,0.58,0.6,0.62,0.64,0.69],[-0.8,0.37,0.39,0.41,0.43,0.45,0.47,0.49,0.51,0.53,0.55,0.57,0.59,0.61,0.63],[-0.81,0.3,0.36,0.39,0.41,0.43,0.45,0.47,0.49,0.51,0.53,0.55,0.57,0.59,0.61,0.63,0.33],[-0.82,0.37,0.39,0.41,0.43,0.45,0.48,0.5,0.52,0.54,0.56,0.58,0.6],[-0.83,0.36,0.38,0.4,0.42,0.44,0.46,0.49,0.51,0.53,0.55,0.57,0.58,0.61,0.62],[-0.84,0.39,0.41,0.43,0.45,0.47,0.5,0.54,0.56,0.58],[-0.85,0.35,0.4,0.42,0.45,0.47,0.5,0.52,0.55,0.57,0.59],[-0.86,0.42,0.44,0.46,0.49,0.54,0.56],[-0.87,0.41,0.43,0.45,0.48,0.53,0.55,0.58],[-0.89,0.47,0.5,0.54,0.56,0.6],[-0.91,0.47,0.55,0.56]];
const b21 = [[0.87,-0.77,-0.76],[0.85,-0.82,-0.78],[0.83,-0.72,-0.78,-0.77],[0.81,-0.68,-0.76],[0.79,-0.75,-0.73,-0.71,-0.7,-0.68],[0.77,-0.75,-0.73,-0.71,-0.76,-0.68],[0.76,-0.78,-0.76,-0.74,-0.73,-0.7,-0.69],[0.74,-0.73,-0.71,-0.69,-0.66],[0.72,-0.72,-0.7,-0.68,-0.67,-0.66],[0.71,-0.71,-0.69,-0.67,-0.665],[0.69,-0.72,-0.7],
[0.57,-0.47,-0.46],[0.55,-0.51,-0.48,-0.47,-0.44],[0.53,-0.48,-0.47,-0.44,-0.43,-0.41],[0.52,-0.51,-0.46,-0.45,-0.43,-0.41],[0.5,-0.47,-0.45,-0.43,-0.42,-0.4],[0.48,-0.46,-0.42],[0.47,-0.4],[0.45,-0.395]];
const seriesB = [b0,b1,b2,b3,b4,[],b6,b7,b8,b9,[],[],b12,b13,b14,b15,b16,[],b18,b19,b20,b21,[],[],[],[]];

// [y, x, x ...] rows to chart points
function toPoints(rows) {
  const pts = [];
  rows.forEach(row => {
    for (let i = 1; i < row.length; i++) pts.push({ x: row[i], y: row[0] });
  });
  return pts;
}

function buildDatasets(series) {
  return series.map((rows, i) => ({
    label: `class ${i}`,
    data: toPoints(rows),
    backgroundColor: palette[i % 10],
    borderWidth: 0,
    pointRadius: 6.5,
    pointHoverRadius: 6.5,
    showLine: false
  }));
}

// frame on all four sides + matplotlib style legend box
const framePlugin = {
  id: "framePlugin",
  afterDatasetsDraw(chart, args, options) {
    const { ctx, chartArea: { left, right, top, bottom } } = chart;
    ctx.save();
    ctx.strokeStyle = "#333";
    ctx.lineWidth = 2;
    ctx.strokeRect(left, top, right - left, bottom - top);

    const box = options.box;
    ctx.beginPath();
    ctx.roundRect(box.left, box.top, box.right - box.left, box.bottom - box.top, 3);
    ctx.fillStyle = "rgba(255,255,255,0.82)";
    ctx.fill();
    ctx.strokeStyle = "#d6d6d6";
    ctx.lineWidth = 1.5;
    ctx.stroke();

    ctx.font = '18px "DejaVu Sans"';
    ctx.textBaseline = "middle";
    chart.data.datasets.forEach((ds, i) => {
      const y = box.firstRow + i * box.step;
      ctx.beginPath();
      ctx.arc(box.markerX, y, 6.3, 0, Math.PI * 2);
      ctx.fillStyle = ds.backgroundColor;
      ctx.fill();
      ctx.fillStyle = "#262626";
      ctx.fillText(ds.label, box.textX, y + 1);
    });
    ctx.restore();
  }
};

function formatB(v) {
  return v.toFixed(1).replace("-", "\u2212");
}

function makeChart(id, cfg) {
  const tickFont = { family: '"DejaVu Sans"', size: 18 };
  const axis = (min, max, tickList, fmt, title, titlePad, size, isX) => ({
    type: "linear",
    min, max,
    afterBuildTicks: s => { s.ticks = tickList.map(v => ({ value: v })); },
    afterFit: s => { if (isX) s.height = size; else s.width = size; },
    border: { display: false },
    grid: { display: true, drawOnChartArea: false, drawTicks: true, tickLength: 7, tickWidth: 1.5, tickColor: "#333" },
    ticks: { color: "#262626", font: tickFont, padding: isX ? 5 : 7, maxRotation: 0, autoSkip: false, callback: fmt },
    title: { display: true, text: title, color: "#262626", font: tickFont, padding: isX ? { top: 0, bottom: titlePad } : { top: titlePad, bottom: 0 } }
  });
  return new Chart(document.getElementById(id), {
    type: "scatter",
    data: { datasets: buildDatasets(cfg.series) },
    options: {
      responsive: false,
      animation: false,
      devicePixelRatio: 1,
      layout: { padding: cfg.padding },
      plugins: { legend: { display: false }, tooltip: { enabled: false }, framePlugin: { box: cfg.box } },
      scales: {
        x: axis(cfg.xMin, cfg.xMax, cfg.xTicks, cfg.fmt, "coordinate 0", cfg.xTitlePad, cfg.xSize, true),
        y: axis(cfg.yMin, cfg.yMax, cfg.yTicks, cfg.fmt, "coordinate 1", cfg.yTitlePad, cfg.ySize, false)
      }
    },
    plugins: [framePlugin]
  });
}

makeChart("chartA", {
  series: seriesA,
  xMin: -0.19, xMax: 42.3, yMin: 0.913, yMax: 23.63,
  xTicks: ticksAX, yTicks: ticksAY,
  fmt: v => String(v),
  padding: { top: 32, right: 32, left: 0, bottom: 0 },
  xSize: 74, ySize: 110, xTitlePad: 16, yTitlePad: 43,
  box: { left: 2001, right: 2141, top: 436, bottom: 1017, firstRow: 452, step: 27.45, markerX: 2026, textX: 2058 }
});

makeChart("chartB", {
  series: seriesB,
  xMin: -1.2228, xMax: 1.2465, yMin: -1.261, yMax: 1.043,
  xTicks: ticksBX, yTicks: ticksBY,
  fmt: formatB,
  padding: { top: 43, right: 25, left: 0, bottom: 0 },
  xSize: 90, ySize: 131.6, xTitlePad: 32, yTitlePad: 43,
  box: { left: 2008, right: 2147, top: 307, bottom: 1021, firstRow: 322.5, step: 27.3, markerX: 2034, textX: 2066 }
});
</script>
</body>
</html>
